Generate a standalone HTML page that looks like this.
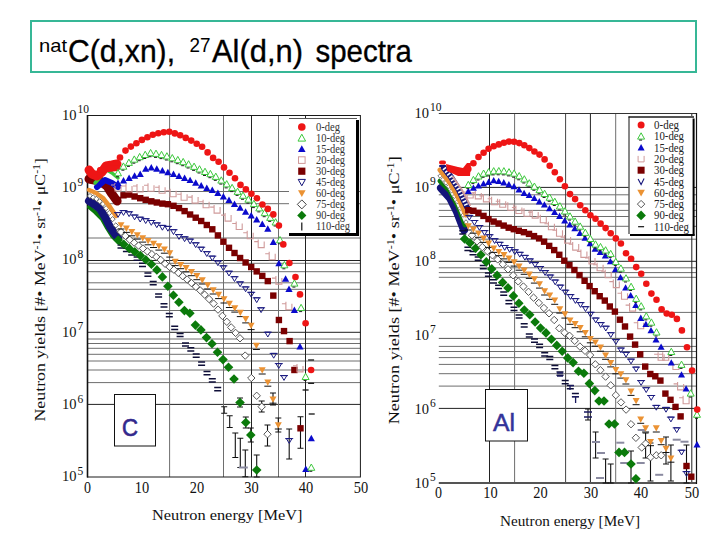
<!DOCTYPE html><html><head><meta charset="utf-8"><style>html,body{margin:0;padding:0;background:#fff;width:720px;height:540px;overflow:hidden}svg{display:block}</style></head><body>
<svg width="720" height="540" viewBox="0 0 720 540" shape-rendering="geometricPrecision">
<rect width="720" height="540" fill="#fff"/>
<rect x="31" y="21" width="665" height="51" fill="none" stroke="#36B796" stroke-width="2"/>
<text x="39" y="51.7" font-family="'Liberation Sans', sans-serif" font-size="18.5" textLength="28" lengthAdjust="spacingAndGlyphs">nat</text>
<text x="68" y="61.7" font-family="'Liberation Sans', sans-serif" font-size="31.5" textLength="107" lengthAdjust="spacingAndGlyphs" stroke="#000" stroke-width="0.35">C(d,xn),</text>
<text x="189.5" y="51.7" font-family="'Liberation Sans', sans-serif" font-size="19.5" textLength="21" lengthAdjust="spacingAndGlyphs">27</text>
<text x="212" y="61.7" font-family="'Liberation Sans', sans-serif" font-size="31.5" textLength="91" lengthAdjust="spacingAndGlyphs" stroke="#000" stroke-width="0.35">Al(d,n)</text>
<text x="315.5" y="61.7" font-family="'Liberation Sans', sans-serif" font-size="31.5" textLength="96.5" lengthAdjust="spacingAndGlyphs" stroke="#000" stroke-width="0.35">spectra</text>
<path d="M87.5 191.5H360.4" stroke="#6e6e6e" stroke-width="1"/><path d="M87.5 203.7H360.4" stroke="#6e6e6e" stroke-width="1"/><path d="M87.5 238H360.4" stroke="#6e6e6e" stroke-width="1"/><path d="M87.5 263.3H360.4" stroke="#6e6e6e" stroke-width="1"/><path d="M87.5 271.7H360.4" stroke="#6e6e6e" stroke-width="1"/><path d="M87.5 282.8H360.4" stroke="#6e6e6e" stroke-width="1"/><path d="M87.5 289.3H360.4" stroke="#6e6e6e" stroke-width="1"/><path d="M87.5 310.5H360.4" stroke="#6e6e6e" stroke-width="1"/><path d="M87.5 339H360.4" stroke="#6e6e6e" stroke-width="1"/><path d="M87.5 343.5H360.4" stroke="#6e6e6e" stroke-width="1"/><path d="M87.5 348.3H360.4" stroke="#6e6e6e" stroke-width="1"/><path d="M87.5 354.3H360.4" stroke="#6e6e6e" stroke-width="1"/><path d="M87.5 361H360.4" stroke="#6e6e6e" stroke-width="1"/><path d="M87.5 370H360.4" stroke="#6e6e6e" stroke-width="1"/><path d="M87.5 382.6H360.4" stroke="#6e6e6e" stroke-width="1"/><path d="M87.5 260.5H360.4" stroke="#222" stroke-width="1"/><path d="M87.5 332.3H360.4" stroke="#222" stroke-width="1"/><path d="M87.5 404.4H360.4" stroke="#222" stroke-width="1"/><path d="M169.6 115.5V477" stroke="#6e6e6e" stroke-width="1"/><path d="M223.5 115.5V477" stroke="#6e6e6e" stroke-width="1"/><path d="M278.5 115.5V477" stroke="#6e6e6e" stroke-width="1"/><path d="M251.5 115.5V477" stroke="#222" stroke-width="1"/><path d="M305.5 115.5V477" stroke="#222" stroke-width="1"/>
<rect x="87.5" y="115.5" width="272.9" height="361.5" fill="none" stroke="#1a1a1a" stroke-width="1"/>
<path d="M87.5 115V477.5" stroke="#111" stroke-width="1.6"/>
<g><polyline points="89,207 95,212 102,219 107,228 112,236 118,242 124,246" fill="none" stroke="#0B7A0B" stroke-width="4" stroke-linejoin="round" stroke-linecap="round"/><polyline points="89,201 95,205 100,209 105,217 110,227 115,234 118,238" fill="none" stroke="#14147A" stroke-width="8" stroke-linejoin="round" stroke-linecap="round"/><polygon points="90,193.4 92.6,196 90,198.6 87.4,196" fill="#fff" stroke="#444444" stroke-width="0.8"/><polygon points="93.2,194.8 95.8,197.4 93.2,200 90.6,197.4" fill="#fff" stroke="#444444" stroke-width="0.8"/><polygon points="96.4,196.2 99,198.8 96.4,201.4 93.8,198.8" fill="#fff" stroke="#444444" stroke-width="0.8"/><polygon points="99.7,198.7 102.3,201.3 99.7,203.9 97.1,201.3" fill="#fff" stroke="#444444" stroke-width="0.8"/><polygon points="102.9,201.4 105.5,204 102.9,206.6 100.3,204" fill="#fff" stroke="#444444" stroke-width="0.8"/><polygon points="106.1,205.6 108.7,208.2 106.1,210.8 103.5,208.2" fill="#fff" stroke="#444444" stroke-width="0.8"/><polygon points="109.3,210.4 111.9,213 109.3,215.6 106.7,213" fill="#fff" stroke="#444444" stroke-width="0.8"/><polygon points="112.6,216.5 115.2,219.1 112.6,221.7 110,219.1" fill="#fff" stroke="#444444" stroke-width="0.8"/><polygon points="115.8,222.8 118.4,225.4 115.8,228 113.2,225.4" fill="#fff" stroke="#444444" stroke-width="0.8"/><polygon points="119,228.4 121.6,231 119,233.6 116.4,231" fill="#fff" stroke="#444444" stroke-width="0.8"/><polyline points="89,190 96,193 103,198 110,207 116,216" fill="none" stroke="#EB9233" stroke-width="4.5" stroke-linejoin="round" stroke-linecap="round"/><polyline points="89,179 100,181 107,186 112,194 117,201" fill="none" stroke="#7A0000" stroke-width="9" stroke-linejoin="round" stroke-linecap="round"/><polyline points="97,187 105,180 112,183 118,187" fill="none" stroke="#0A0ACC" stroke-width="6" stroke-linejoin="round" stroke-linecap="round"/><polyline points="95,183 102,175 107,170 112,173 118,178" fill="none" stroke="#3DC83D" stroke-width="3.5" stroke-linejoin="round" stroke-linecap="round"/><polyline points="89,170 92,174 97,176 102,172 106,166 112,165 117,164" fill="none" stroke="#EE1515" stroke-width="9" stroke-linejoin="round" stroke-linecap="round"/><polyline points="100,170 117,168" fill="none" stroke="#EE1515" stroke-width="6" stroke-linejoin="round" stroke-linecap="round"/><path d="M117.5 244.9H124.5M117.5 248.1H124.5" stroke="#0e0e38" stroke-width="1.5" fill="none"/><path d="M122.9 248.3H129.9M122.9 251.5H129.9" stroke="#0e0e38" stroke-width="1.5" fill="none"/><path d="M128.2 251.8H135.2M128.2 255H135.2" stroke="#0e0e38" stroke-width="1.5" fill="none"/><path d="M133.6 257.1H140.6M133.6 260.3H140.6" stroke="#0e0e38" stroke-width="1.5" fill="none"/><path d="M139 263.2H146M139 266.4H146" stroke="#0e0e38" stroke-width="1.5" fill="none"/><path d="M144.4 273H151.4M144.4 276.2H151.4" stroke="#0e0e38" stroke-width="1.5" fill="none"/><path d="M149.7 281.6H156.7M149.7 284.8H156.7" stroke="#0e0e38" stroke-width="1.5" fill="none"/><path d="M155.1 293.9H162.1M155.1 297.1H162.1" stroke="#0e0e38" stroke-width="1.5" fill="none"/><path d="M160.5 303.7H167.5M160.5 306.9H167.5" stroke="#0e0e38" stroke-width="1.5" fill="none"/><path d="M165.8 313.5H172.8M165.8 316.7H172.8" stroke="#0e0e38" stroke-width="1.5" fill="none"/><path d="M171.2 326.2H178.2M171.2 329.4H178.2" stroke="#0e0e38" stroke-width="1.5" fill="none"/><path d="M176.6 333.4H183.6M176.6 336.6H183.6" stroke="#0e0e38" stroke-width="1.5" fill="none"/><path d="M182 342.9H189M182 346.1H189" stroke="#0e0e38" stroke-width="1.5" fill="none"/><path d="M187.3 347.8H194.3M187.3 351H194.3" stroke="#0e0e38" stroke-width="1.5" fill="none"/><path d="M192.7 354.1H199.7M192.7 357.3H199.7" stroke="#0e0e38" stroke-width="1.5" fill="none"/><path d="M198.1 362.1H205.1M198.1 365.3H205.1" stroke="#0e0e38" stroke-width="1.5" fill="none"/><path d="M203.5 371.5H210.5M203.5 374.7H210.5" stroke="#0e0e38" stroke-width="1.5" fill="none"/><path d="M208.8 378.8H215.8M208.8 382H215.8" stroke="#0e0e38" stroke-width="1.5" fill="none"/><path d="M214.2 387.6H221.2M214.2 390.8H221.2" stroke="#0e0e38" stroke-width="1.5" fill="none"/><path d="M224.2 406.7V413.3M221.2 406.7H227.2M221.2 413.3H227.2" stroke="#111" stroke-width="1.1" fill="none"/><path d="M229.7 415.8V427.5M226.7 415.8H232.7M226.7 427.5H232.7" stroke="#111" stroke-width="1.1" fill="none"/><path d="M235.3 433V457.5M232.3 433H238.3M232.3 457.5H238.3" stroke="#111" stroke-width="1.1" fill="none"/><path d="M240.3 438.3V467.5M237.3 438.3H243.3M237.3 467.5H243.3" stroke="#111" stroke-width="1.1" fill="none"/><path d="M245.3 450V476.7M242.3 450H248.3M242.3 476.7H248.3" stroke="#111" stroke-width="1.1" fill="none"/><path d="M238.8 467.5H247.8" stroke="#8a8aa0" stroke-width="2"/><path d="M240 398V407M237 398H243M237 407H243" stroke="#111" stroke-width="1.1" fill="none"/><path d="M245.8 417V428M242.8 417H248.8M242.8 428H248.8" stroke="#111" stroke-width="1.1" fill="none"/><path d="M250.8 428V442M247.8 428H253.8M247.8 442H253.8" stroke="#111" stroke-width="1.1" fill="none"/><path d="M256.7 455V477M253.7 455H259.7M253.7 477H259.7" stroke="#111" stroke-width="1.1" fill="none"/><path d="M261.7 401V412M258.7 401H264.7M258.7 412H264.7" stroke="#111" stroke-width="1.1" fill="none"/><path d="M267.5 425V446M264.5 425H270.5M264.5 446H270.5" stroke="#111" stroke-width="1.1" fill="none"/><path d="M273 393V405M270 393H276M270 405H276" stroke="#111" stroke-width="1.1" fill="none"/><path d="M278.3 418V432M275.3 418H281.3M275.3 432H281.3" stroke="#111" stroke-width="1.1" fill="none"/><path d="M289.2 429V459M286.2 429H292.2M286.2 459H292.2" stroke="#111" stroke-width="1.1" fill="none"/><path d="M300.5 416.7V448.3M297.5 416.7H303.5M297.5 448.3H303.5" stroke="#111" stroke-width="1.1" fill="none"/><path d="M308.7 414H314.7" stroke="#111" stroke-width="1.3"/><path d="M308.1 360H314.1" stroke="#111" stroke-width="1.3"/><path d="M308.1 383.3H314.1" stroke="#111" stroke-width="1.3"/><path d="M302.6 390H308.6" stroke="#111" stroke-width="1.3"/><polygon points="118.3,235.2 123.1,240 118.3,244.8 113.5,240" fill="#0B7A0B"/><polygon points="123.8,239.4 128.6,244.2 123.8,249 119,244.2" fill="#0B7A0B"/><polygon points="129.3,243.6 134.1,248.4 129.3,253.2 124.5,248.4" fill="#0B7A0B"/><polygon points="134.8,247 139.6,251.8 134.8,256.6 130,251.8" fill="#0B7A0B"/><polygon points="140.3,250.8 145.1,255.6 140.3,260.4 135.5,255.6" fill="#0B7A0B"/><polygon points="145.8,255 150.6,259.8 145.8,264.6 141,259.8" fill="#0B7A0B"/><polygon points="151.4,259.5 156.2,264.3 151.4,269.1 146.6,264.3" fill="#0B7A0B"/><polygon points="156.9,265.1 161.7,269.9 156.9,274.7 152.1,269.9" fill="#0B7A0B"/><polygon points="162.4,272.1 167.2,276.9 162.4,281.7 157.6,276.9" fill="#0B7A0B"/><polygon points="167.9,281.4 172.7,286.2 167.9,291 163.1,286.2" fill="#0B7A0B"/><polygon points="173.4,290.5 178.2,295.3 173.4,300.1 168.6,295.3" fill="#0B7A0B"/><polygon points="178.9,297.4 183.7,302.2 178.9,307 174.1,302.2" fill="#0B7A0B"/><polygon points="184.4,305.8 189.2,310.6 184.4,315.4 179.6,310.6" fill="#0B7A0B"/><polygon points="189.9,308.5 194.7,313.3 189.9,318.1 185.1,313.3" fill="#0B7A0B"/><polygon points="195.4,320.3 200.2,325.1 195.4,329.9 190.6,325.1" fill="#0B7A0B"/><polygon points="200.9,325.1 205.7,329.9 200.9,334.7 196.1,329.9" fill="#0B7A0B"/><polygon points="206.5,332.8 211.3,337.6 206.5,342.4 201.7,337.6" fill="#0B7A0B"/><polygon points="212,339 216.8,343.8 212,348.6 207.2,343.8" fill="#0B7A0B"/><polygon points="217.5,347.4 222.3,352.2 217.5,357 212.7,352.2" fill="#0B7A0B"/><polygon points="223,354.8 227.8,359.6 223,364.4 218.2,359.6" fill="#0B7A0B"/><polygon points="228.5,362.5 233.3,367.3 228.5,372.1 223.7,367.3" fill="#0B7A0B"/><polygon points="234,374.2 238.8,379 234,383.8 229.2,379" fill="#0B7A0B"/><polygon points="240,397.7 244.8,402.5 240,407.3 235.2,402.5" fill="#0B7A0B"/><polygon points="245.8,417.7 250.6,422.5 245.8,427.3 241,422.5" fill="#0B7A0B"/><polygon points="250.8,430.2 255.6,435 250.8,439.8 246,435" fill="#0B7A0B"/><polygon points="256.7,465.2 261.5,470 256.7,474.8 251.9,470" fill="#0B7A0B"/><polygon points="121,228.3 124.7,232 121,235.7 117.3,232" fill="#fff" stroke="#444444" stroke-width="0.9"/><polygon points="125.4,232.2 129.1,235.9 125.4,239.6 121.7,235.9" fill="#fff" stroke="#444444" stroke-width="0.9"/><polygon points="129.8,236.1 133.5,239.8 129.8,243.5 126.1,239.8" fill="#fff" stroke="#444444" stroke-width="0.9"/><polygon points="134.2,239 137.9,242.7 134.2,246.4 130.5,242.7" fill="#fff" stroke="#444444" stroke-width="0.9"/><polygon points="138.6,241.9 142.3,245.6 138.6,249.3 134.9,245.6" fill="#fff" stroke="#444444" stroke-width="0.9"/><polygon points="143,244.8 146.7,248.5 143,252.2 139.3,248.5" fill="#fff" stroke="#444444" stroke-width="0.9"/><polygon points="147.4,247.7 151.1,251.4 147.4,255.1 143.7,251.4" fill="#fff" stroke="#444444" stroke-width="0.9"/><polygon points="151.9,250.5 155.6,254.2 151.9,257.9 148.2,254.2" fill="#fff" stroke="#444444" stroke-width="0.9"/><polygon points="156.3,253.2 160,256.9 156.3,260.6 152.6,256.9" fill="#fff" stroke="#444444" stroke-width="0.9"/><polygon points="160.7,256.2 164.4,259.9 160.7,263.6 157,259.9" fill="#fff" stroke="#444444" stroke-width="0.9"/><polygon points="165.1,260.1 168.8,263.8 165.1,267.5 161.4,263.8" fill="#fff" stroke="#444444" stroke-width="0.9"/><polygon points="169.5,263.2 173.2,266.9 169.5,270.6 165.8,266.9" fill="#fff" stroke="#444444" stroke-width="0.9"/><polygon points="173.9,266 177.6,269.7 173.9,273.4 170.2,269.7" fill="#fff" stroke="#444444" stroke-width="0.9"/><polygon points="178.3,269.2 182,272.9 178.3,276.6 174.6,272.9" fill="#fff" stroke="#444444" stroke-width="0.9"/><polygon points="182.7,272.5 186.4,276.2 182.7,279.9 179,276.2" fill="#fff" stroke="#444444" stroke-width="0.9"/><polygon points="187.1,275.8 190.8,279.5 187.1,283.2 183.4,279.5" fill="#fff" stroke="#444444" stroke-width="0.9"/><polygon points="191.5,279.4 195.2,283.1 191.5,286.8 187.8,283.1" fill="#fff" stroke="#444444" stroke-width="0.9"/><polygon points="195.9,283.1 199.6,286.8 195.9,290.5 192.2,286.8" fill="#fff" stroke="#444444" stroke-width="0.9"/><polygon points="200.3,286.8 204,290.5 200.3,294.2 196.6,290.5" fill="#fff" stroke="#444444" stroke-width="0.9"/><polygon points="204.7,291 208.4,294.7 204.7,298.4 201,294.7" fill="#fff" stroke="#444444" stroke-width="0.9"/><polygon points="209.1,295.4 212.8,299.1 209.1,302.8 205.4,299.1" fill="#fff" stroke="#444444" stroke-width="0.9"/><polygon points="213.6,299.9 217.3,303.6 213.6,307.3 209.9,303.6" fill="#fff" stroke="#444444" stroke-width="0.9"/><polygon points="218,305.9 221.7,309.6 218,313.3 214.3,309.6" fill="#fff" stroke="#444444" stroke-width="0.9"/><polygon points="222.4,312.2 226.1,315.9 222.4,319.6 218.7,315.9" fill="#fff" stroke="#444444" stroke-width="0.9"/><polygon points="226.8,318.1 230.5,321.8 226.8,325.5 223.1,321.8" fill="#fff" stroke="#444444" stroke-width="0.9"/><polygon points="231.2,323.7 234.9,327.4 231.2,331.1 227.5,327.4" fill="#fff" stroke="#444444" stroke-width="0.9"/><polygon points="235.6,329.2 239.3,332.9 235.6,336.6 231.9,332.9" fill="#fff" stroke="#444444" stroke-width="0.9"/><polygon points="240,334.6 243.7,338.3 240,342 236.3,338.3" fill="#fff" stroke="#444444" stroke-width="0.9"/><polygon points="245.2,351.9 248.9,355.6 245.2,359.3 241.5,355.6" fill="#fff" stroke="#444444" stroke-width="0.9"/><polygon points="251.3,374.3 255,378 251.3,381.7 247.6,378" fill="#fff" stroke="#444444" stroke-width="0.9"/><polygon points="256.7,392.1 260.4,395.8 256.7,399.5 253,395.8" fill="#fff" stroke="#444444" stroke-width="0.9"/><polygon points="261.7,403 265.4,406.7 261.7,410.4 258,406.7" fill="#fff" stroke="#444444" stroke-width="0.9"/><polygon points="267.5,430.5 271.2,434.2 267.5,437.9 263.8,434.2" fill="#fff" stroke="#444444" stroke-width="0.9"/><polygon points="121,228.5 117.5,222.2 124.5,222.2" fill="#EB9233"/><path d="M117.5 229H124.5" stroke="#111" stroke-width="1"/><polygon points="126.4,231.9 122.9,225.6 129.9,225.6" fill="#EB9233"/><path d="M122.9 232.4H129.9" stroke="#111" stroke-width="1"/><polygon points="131.8,235.3 128.3,229 135.3,229" fill="#EB9233"/><path d="M128.3 235.8H135.3" stroke="#111" stroke-width="1"/><polygon points="137.3,238.6 133.8,232.3 140.8,232.3" fill="#EB9233"/><path d="M133.8 239.1H140.8" stroke="#111" stroke-width="1"/><polygon points="142.7,241.6 139.2,235.3 146.2,235.3" fill="#EB9233"/><path d="M139.2 242.1H146.2" stroke="#111" stroke-width="1"/><polygon points="148.1,244.3 144.6,238 151.6,238" fill="#EB9233"/><path d="M144.6 244.8H151.6" stroke="#111" stroke-width="1"/><polygon points="153.5,247 150,240.7 157,240.7" fill="#EB9233"/><path d="M150 247.5H157" stroke="#111" stroke-width="1"/><polygon points="158.9,249.6 155.4,243.3 162.4,243.3" fill="#EB9233"/><path d="M155.4 250.1H162.4" stroke="#111" stroke-width="1"/><polygon points="164.4,252.7 160.9,246.4 167.9,246.4" fill="#EB9233"/><path d="M160.9 253.2H167.9" stroke="#111" stroke-width="1"/><polygon points="169.8,256.6 166.3,250.3 173.3,250.3" fill="#EB9233"/><path d="M166.3 257.1H173.3" stroke="#111" stroke-width="1"/><polygon points="175.2,265.1 171.7,258.8 178.7,258.8" fill="#EB9233"/><path d="M171.7 265.6H178.7" stroke="#111" stroke-width="1"/><polygon points="180.6,268.2 177.1,261.9 184.1,261.9" fill="#EB9233"/><path d="M177.1 268.7H184.1" stroke="#111" stroke-width="1"/><polygon points="186.1,271.4 182.6,265.1 189.6,265.1" fill="#EB9233"/><path d="M182.6 271.9H189.6" stroke="#111" stroke-width="1"/><polygon points="191.5,275.2 188,268.9 195,268.9" fill="#EB9233"/><path d="M188 275.7H195" stroke="#111" stroke-width="1"/><polygon points="196.9,279.2 193.4,272.9 200.4,272.9" fill="#EB9233"/><path d="M193.4 279.7H200.4" stroke="#111" stroke-width="1"/><polygon points="202.3,283.5 198.8,277.2 205.8,277.2" fill="#EB9233"/><path d="M198.8 284H205.8" stroke="#111" stroke-width="1"/><polygon points="207.7,288.5 204.2,282.2 211.2,282.2" fill="#EB9233"/><path d="M204.2 289H211.2" stroke="#111" stroke-width="1"/><polygon points="213.2,293.5 209.7,287.2 216.7,287.2" fill="#EB9233"/><path d="M209.7 294H216.7" stroke="#111" stroke-width="1"/><polygon points="218.6,298.1 215.1,291.8 222.1,291.8" fill="#EB9233"/><path d="M215.1 298.6H222.1" stroke="#111" stroke-width="1"/><polygon points="224,302.5 220.5,296.2 227.5,296.2" fill="#EB9233"/><path d="M220.5 303H227.5" stroke="#111" stroke-width="1"/><polygon points="229.4,307 225.9,300.7 232.9,300.7" fill="#EB9233"/><path d="M225.9 307.5H232.9" stroke="#111" stroke-width="1"/><polygon points="234.8,311.6 231.3,305.3 238.3,305.3" fill="#EB9233"/><path d="M231.3 312.1H238.3" stroke="#111" stroke-width="1"/><polygon points="240.3,316.1 236.8,309.8 243.8,309.8" fill="#EB9233"/><path d="M236.8 316.6H243.8" stroke="#111" stroke-width="1"/><polygon points="245.7,322.4 242.2,316.1 249.2,316.1" fill="#EB9233"/><path d="M242.2 322.9H249.2" stroke="#111" stroke-width="1"/><polygon points="251.1,329.1 247.6,322.8 254.6,322.8" fill="#EB9233"/><path d="M247.6 329.6H254.6" stroke="#111" stroke-width="1"/><polygon points="256.4,349 252.9,342.7 259.9,342.7" fill="#EB9233"/><path d="M252.9 349.5H259.9" stroke="#111" stroke-width="1"/><polygon points="262.2,373.5 258.7,367.2 265.7,367.2" fill="#EB9233"/><path d="M258.7 374H265.7" stroke="#111" stroke-width="1"/><polygon points="267.8,385.7 264.3,379.4 271.3,379.4" fill="#EB9233"/><path d="M264.3 386.2H271.3" stroke="#111" stroke-width="1"/><polygon points="273,402.7 269.5,396.4 276.5,396.4" fill="#EB9233"/><path d="M269.5 403.2H276.5" stroke="#111" stroke-width="1"/><polygon points="278.3,428.5 274.8,422.2 281.8,422.2" fill="#EB9233"/><path d="M274.8 429H281.8" stroke="#111" stroke-width="1"/><path d="M115.2 212.6L118 217.4L120.8 212.6ZM114 212.6H122" stroke="#1a1a80" stroke-width="1" fill="none"/><path d="M120.7 210.6L123.5 215.4L126.3 210.6ZM119.5 210.6H127.5" stroke="#1a1a80" stroke-width="1" fill="none"/><path d="M126.3 211.8L129.1 216.6L131.9 211.8ZM125.1 211.8H133.1" stroke="#1a1a80" stroke-width="1" fill="none"/><path d="M131.8 215L134.6 219.8L137.4 215ZM130.6 215H138.6" stroke="#1a1a80" stroke-width="1" fill="none"/><path d="M137.4 217.2L140.2 222L143 217.2ZM136.2 217.2H144.2" stroke="#1a1a80" stroke-width="1" fill="none"/><path d="M142.9 218.7L145.7 223.5L148.5 218.7ZM141.7 218.7H149.7" stroke="#1a1a80" stroke-width="1" fill="none"/><path d="M148.5 220.5L151.3 225.3L154.1 220.5ZM147.3 220.5H155.3" stroke="#1a1a80" stroke-width="1" fill="none"/><path d="M154 222.9L156.8 227.7L159.6 222.9ZM152.8 222.9H160.8" stroke="#1a1a80" stroke-width="1" fill="none"/><path d="M159.6 225.4L162.4 230.2L165.2 225.4ZM158.4 225.4H166.4" stroke="#1a1a80" stroke-width="1" fill="none"/><path d="M165.1 226.4L167.9 231.2L170.7 226.4ZM163.9 226.4H171.9" stroke="#1a1a80" stroke-width="1" fill="none"/><path d="M170.7 229.7L173.5 234.5L176.3 229.7ZM169.5 229.7H177.5" stroke="#1a1a80" stroke-width="1" fill="none"/><path d="M176.2 234.6L179 239.4L181.8 234.6ZM175 234.6H183" stroke="#1a1a80" stroke-width="1" fill="none"/><path d="M181.8 236.8L184.6 241.6L187.4 236.8ZM180.6 236.8H188.6" stroke="#1a1a80" stroke-width="1" fill="none"/><path d="M187.3 239.1L190.1 243.9L192.9 239.1ZM186.1 239.1H194.1" stroke="#1a1a80" stroke-width="1" fill="none"/><path d="M192.9 242.8L195.7 247.6L198.5 242.8ZM191.7 242.8H199.7" stroke="#1a1a80" stroke-width="1" fill="none"/><path d="M198.4 247.2L201.2 252L204 247.2ZM197.2 247.2H205.2" stroke="#1a1a80" stroke-width="1" fill="none"/><path d="M204 251.7L206.8 256.5L209.6 251.7ZM202.8 251.7H210.8" stroke="#1a1a80" stroke-width="1" fill="none"/><path d="M209.5 256.1L212.3 260.9L215.1 256.1ZM208.3 256.1H216.3" stroke="#1a1a80" stroke-width="1" fill="none"/><path d="M215.1 260.9L217.9 265.7L220.7 260.9ZM213.9 260.9H221.9" stroke="#1a1a80" stroke-width="1" fill="none"/><path d="M220.6 265.8L223.4 270.6L226.2 265.8ZM219.4 265.8H227.4" stroke="#1a1a80" stroke-width="1" fill="none"/><path d="M226.2 271.2L229 276L231.8 271.2ZM225 271.2H233" stroke="#1a1a80" stroke-width="1" fill="none"/><path d="M231.7 276.7L234.5 281.5L237.3 276.7ZM230.5 276.7H238.5" stroke="#1a1a80" stroke-width="1" fill="none"/><path d="M237.3 281.9L240.1 286.7L242.9 281.9ZM236.1 281.9H244.1" stroke="#1a1a80" stroke-width="1" fill="none"/><path d="M242.8 286.9L245.6 291.7L248.4 286.9ZM241.6 286.9H249.6" stroke="#1a1a80" stroke-width="1" fill="none"/><path d="M248.4 292.3L251.2 297.1L254 292.3ZM247.2 292.3H255.2" stroke="#1a1a80" stroke-width="1" fill="none"/><path d="M253.9 297.8L256.7 302.6L259.5 297.8ZM252.7 297.8H260.7" stroke="#1a1a80" stroke-width="1" fill="none"/><path d="M258.3 307.8L261.1 312.6L263.9 307.8ZM257.1 307.8H265.1" stroke="#1a1a80" stroke-width="1" fill="none"/><path d="M265 332.2L267.8 337L270.6 332.2ZM263.8 332.2H271.8" stroke="#1a1a80" stroke-width="1" fill="none"/><path d="M270.9 353.4L273.7 358.2L276.5 353.4ZM269.7 353.4H277.7" stroke="#1a1a80" stroke-width="1" fill="none"/><path d="M276 363.6L278.8 368.4L281.6 363.6ZM274.8 363.6H282.8" stroke="#1a1a80" stroke-width="1" fill="none"/><path d="M281.2 375.6L284 380.4L286.8 375.6ZM280 375.6H288" stroke="#1a1a80" stroke-width="1" fill="none"/><path d="M286.4 438.6L289.2 443.4L292 438.6ZM285.2 438.6H293.2" stroke="#1a1a80" stroke-width="1" fill="none"/><rect x="114.8" y="196.8" width="6.4" height="6.4" fill="#7A0000"/><rect x="120.3" y="192.1" width="6.4" height="6.4" fill="#7A0000"/><rect x="125.9" y="191.4" width="6.4" height="6.4" fill="#7A0000"/><rect x="131.4" y="193.3" width="6.4" height="6.4" fill="#7A0000"/><rect x="137" y="195" width="6.4" height="6.4" fill="#7A0000"/><rect x="142.5" y="196.6" width="6.4" height="6.4" fill="#7A0000"/><rect x="148.1" y="198.1" width="6.4" height="6.4" fill="#7A0000"/><rect x="153.6" y="199.3" width="6.4" height="6.4" fill="#7A0000"/><rect x="159.2" y="200.4" width="6.4" height="6.4" fill="#7A0000"/><rect x="164.7" y="201" width="6.4" height="6.4" fill="#7A0000"/><rect x="170.3" y="202.6" width="6.4" height="6.4" fill="#7A0000"/><rect x="175.8" y="204.9" width="6.4" height="6.4" fill="#7A0000"/><rect x="181.4" y="207.9" width="6.4" height="6.4" fill="#7A0000"/><rect x="186.9" y="211.3" width="6.4" height="6.4" fill="#7A0000"/><rect x="192.5" y="214.5" width="6.4" height="6.4" fill="#7A0000"/><rect x="198" y="217.8" width="6.4" height="6.4" fill="#7A0000"/><rect x="203.6" y="221.8" width="6.4" height="6.4" fill="#7A0000"/><rect x="209.1" y="226.1" width="6.4" height="6.4" fill="#7A0000"/><rect x="214.7" y="232.2" width="6.4" height="6.4" fill="#7A0000"/><rect x="220.2" y="238.5" width="6.4" height="6.4" fill="#7A0000"/><rect x="225.8" y="244.6" width="6.4" height="6.4" fill="#7A0000"/><rect x="231.3" y="249.8" width="6.4" height="6.4" fill="#7A0000"/><rect x="236.9" y="254.8" width="6.4" height="6.4" fill="#7A0000"/><rect x="242.4" y="259.3" width="6.4" height="6.4" fill="#7A0000"/><rect x="248" y="263.8" width="6.4" height="6.4" fill="#7A0000"/><rect x="253.5" y="268.2" width="6.4" height="6.4" fill="#7A0000"/><rect x="259.1" y="272.7" width="6.4" height="6.4" fill="#7A0000"/><rect x="264.6" y="277.9" width="6.4" height="6.4" fill="#7A0000"/><rect x="270.1" y="292.4" width="6.4" height="6.4" fill="#7A0000"/><rect x="275.7" y="316.8" width="6.4" height="6.4" fill="#7A0000"/><rect x="280.8" y="327.9" width="6.4" height="6.4" fill="#7A0000"/><rect x="286.4" y="337.9" width="6.4" height="6.4" fill="#7A0000"/><rect x="291.2" y="366.8" width="6.4" height="6.4" fill="#7A0000"/><rect x="297.3" y="425.1" width="6.4" height="6.4" fill="#7A0000"/><path d="M111 185H115V191H121V185M115 185V183" stroke="#D09A9A" stroke-width="1.1" fill="none"/><path d="M122 186H126V192H132V186M126 186V184" stroke="#D09A9A" stroke-width="1.1" fill="none"/><path d="M133 186H137V192H143V186M137 186V184" stroke="#D09A9A" stroke-width="1.1" fill="none"/><path d="M144 185.3H148V191.3H154V185.3M148 185.3V183.3" stroke="#D09A9A" stroke-width="1.1" fill="none"/><path d="M155.1 187.2H159.1V193.2H165.1V187.2M159.1 187.2V185.2" stroke="#D09A9A" stroke-width="1.1" fill="none"/><path d="M166.1 190.7H170.1V196.7H176.1V190.7M170.1 190.7V188.7" stroke="#D09A9A" stroke-width="1.1" fill="none"/><path d="M177.1 194.3H181.1V200.3H187.1V194.3M181.1 194.3V192.3" stroke="#D09A9A" stroke-width="1.1" fill="none"/><path d="M188.1 197.1H192.1V203.1H198.1V197.1M192.1 197.1V195.1" stroke="#D09A9A" stroke-width="1.1" fill="none"/><path d="M199.1 201.7H203.1V207.7H209.1V201.7M203.1 201.7V199.7" stroke="#D09A9A" stroke-width="1.1" fill="none"/><path d="M210.1 207.1H214.1V213.1H220.1V207.1M214.1 207.1V205.1" stroke="#D09A9A" stroke-width="1.1" fill="none"/><path d="M221.1 215.1H225.1V221.1H231.1V215.1M225.1 215.1V213.1" stroke="#D09A9A" stroke-width="1.1" fill="none"/><path d="M232.2 223.5H236.2V229.5H242.2V223.5M236.2 223.5V221.5" stroke="#D09A9A" stroke-width="1.1" fill="none"/><path d="M243.2 232.7H247.2V238.7H253.2V232.7M247.2 232.7V230.7" stroke="#D09A9A" stroke-width="1.1" fill="none"/><path d="M254.2 241.6H258.2V247.6H264.2V241.6M258.2 241.6V239.6" stroke="#D09A9A" stroke-width="1.1" fill="none"/><path d="M265.2 253.7H269.2V259.7H275.2V253.7M269.2 253.7V251.7" stroke="#D09A9A" stroke-width="1.1" fill="none"/><path d="M271.9 278.1H275.9V284.1H281.9V278.1M275.9 278.1V276.1" stroke="#D09A9A" stroke-width="1.1" fill="none"/><path d="M281.9 303.7H285.9V309.7H291.9V303.7M285.9 303.7V301.7" stroke="#D09A9A" stroke-width="1.1" fill="none"/><path d="M293 365.9H297V371.9H303V365.9M297 365.9V363.9" stroke="#D09A9A" stroke-width="1.1" fill="none"/><polygon points="118,179.4 114.4,185.9 121.6,185.9" fill="#0A0ACC"/><polygon points="123.5,176.9 119.9,183.4 127.1,183.4" fill="#0A0ACC"/><polygon points="129.1,174.5 125.5,180.9 132.7,180.9" fill="#0A0ACC"/><polygon points="134.6,172.2 131,178.7 138.2,178.7" fill="#0A0ACC"/><polygon points="140.2,170.5 136.6,177 143.8,177" fill="#0A0ACC"/><polygon points="145.7,165.3 142.1,171.8 149.3,171.8" fill="#0A0ACC"/><polygon points="151.3,163.9 147.7,170.4 154.9,170.4" fill="#0A0ACC"/><polygon points="156.8,165.3 153.2,171.7 160.4,171.7" fill="#0A0ACC"/><polygon points="162.4,166.9 158.8,173.4 166,173.4" fill="#0A0ACC"/><polygon points="167.9,168.7 164.3,175.2 171.5,175.2" fill="#0A0ACC"/><polygon points="173.5,170.6 169.9,177.1 177.1,177.1" fill="#0A0ACC"/><polygon points="179,172.4 175.4,178.9 182.6,178.9" fill="#0A0ACC"/><polygon points="184.6,174.5 181,181 188.2,181" fill="#0A0ACC"/><polygon points="190.1,176.7 186.5,183.1 193.7,183.1" fill="#0A0ACC"/><polygon points="195.7,179.3 192.1,185.7 199.3,185.7" fill="#0A0ACC"/><polygon points="201.2,182.1 197.6,188.5 204.8,188.5" fill="#0A0ACC"/><polygon points="206.8,184.4 203.2,190.9 210.4,190.9" fill="#0A0ACC"/><polygon points="212.3,186.6 208.7,193.1 215.9,193.1" fill="#0A0ACC"/><polygon points="217.9,189.5 214.3,196 221.5,196" fill="#0A0ACC"/><polygon points="223.4,192.9 219.8,199.4 227,199.4" fill="#0A0ACC"/><polygon points="229,196.6 225.4,203 232.6,203" fill="#0A0ACC"/><polygon points="234.5,200.5 230.9,206.9 238.1,206.9" fill="#0A0ACC"/><polygon points="240.1,204.3 236.5,210.8 243.7,210.8" fill="#0A0ACC"/><polygon points="245.6,208.2 242,214.7 249.2,214.7" fill="#0A0ACC"/><polygon points="251.2,212 247.6,218.5 254.8,218.5" fill="#0A0ACC"/><polygon points="256.7,215.9 253.1,222.4 260.3,222.4" fill="#0A0ACC"/><polygon points="262.3,220.4 258.7,226.9 265.9,226.9" fill="#0A0ACC"/><polygon points="267.8,225.3 264.2,231.8 271.4,231.8" fill="#0A0ACC"/><polygon points="273.3,238.6 269.7,245.1 276.9,245.1" fill="#0A0ACC"/><polygon points="278.9,259.7 275.3,266.2 282.5,266.2" fill="#0A0ACC"/><polygon points="285.6,275.3 282,281.8 289.2,281.8" fill="#0A0ACC"/><polygon points="289,285.4 285.4,291.9 292.6,291.9" fill="#0A0ACC"/><polygon points="294.4,306.4 290.8,312.9 298,312.9" fill="#0A0ACC"/><polygon points="300,343.1 296.4,349.6 303.6,349.6" fill="#0A0ACC"/><polygon points="311.3,434.7 307.7,441.2 314.9,441.2" fill="#0A0ACC"/><polygon points="305.8,465.6 302.2,472.1 309.4,472.1" fill="#0A0ACC"/><polygon points="118,169.5 114.5,175.8 121.5,175.8" fill="#fff" stroke="#3DC83D" stroke-width="1"/><path d="M116 176.8H119" stroke="#222" stroke-width="1"/><polygon points="123.4,162.9 119.9,169.2 126.9,169.2" fill="#fff" stroke="#3DC83D" stroke-width="1"/><path d="M121.4 170.2H124.4" stroke="#222" stroke-width="1"/><polygon points="128.9,159.1 125.4,165.4 132.4,165.4" fill="#fff" stroke="#3DC83D" stroke-width="1"/><path d="M126.9 166.4H129.9" stroke="#222" stroke-width="1"/><polygon points="134.3,155.9 130.8,162.2 137.8,162.2" fill="#fff" stroke="#3DC83D" stroke-width="1"/><path d="M132.3 163.2H135.3" stroke="#222" stroke-width="1"/><polygon points="139.7,153.4 136.2,159.7 143.2,159.7" fill="#fff" stroke="#3DC83D" stroke-width="1"/><path d="M137.7 160.7H140.7" stroke="#222" stroke-width="1"/><polygon points="145.2,151.2 141.7,157.5 148.7,157.5" fill="#fff" stroke="#3DC83D" stroke-width="1"/><path d="M143.2 158.5H146.2" stroke="#222" stroke-width="1"/><polygon points="150.6,149.4 147.1,155.7 154.1,155.7" fill="#fff" stroke="#3DC83D" stroke-width="1"/><path d="M148.6 156.7H151.6" stroke="#222" stroke-width="1"/><polygon points="156,150.1 152.5,156.4 159.5,156.4" fill="#fff" stroke="#3DC83D" stroke-width="1"/><path d="M154 157.4H157" stroke="#222" stroke-width="1"/><polygon points="161.5,151.3 158,157.6 165,157.6" fill="#fff" stroke="#3DC83D" stroke-width="1"/><path d="M159.5 158.6H162.5" stroke="#222" stroke-width="1"/><polygon points="166.9,152.7 163.4,159 170.4,159" fill="#fff" stroke="#3DC83D" stroke-width="1"/><path d="M164.9 160H167.9" stroke="#222" stroke-width="1"/><polygon points="172.3,154.5 168.8,160.8 175.8,160.8" fill="#fff" stroke="#3DC83D" stroke-width="1"/><path d="M170.3 161.8H173.3" stroke="#222" stroke-width="1"/><polygon points="177.8,156.4 174.3,162.7 181.3,162.7" fill="#fff" stroke="#3DC83D" stroke-width="1"/><path d="M175.8 163.7H178.8" stroke="#222" stroke-width="1"/><polygon points="183.2,158.4 179.7,164.7 186.7,164.7" fill="#fff" stroke="#3DC83D" stroke-width="1"/><path d="M181.2 165.7H184.2" stroke="#222" stroke-width="1"/><polygon points="188.6,160.7 185.1,167 192.1,167" fill="#fff" stroke="#3DC83D" stroke-width="1"/><path d="M186.6 168H189.6" stroke="#222" stroke-width="1"/><polygon points="194.1,163.1 190.6,169.4 197.6,169.4" fill="#fff" stroke="#3DC83D" stroke-width="1"/><path d="M192.1 170.4H195.1" stroke="#222" stroke-width="1"/><polygon points="199.5,165.7 196,172 203,172" fill="#fff" stroke="#3DC83D" stroke-width="1"/><path d="M197.5 173H200.5" stroke="#222" stroke-width="1"/><polygon points="205,168.2 201.5,174.5 208.5,174.5" fill="#fff" stroke="#3DC83D" stroke-width="1"/><path d="M203 175.5H206" stroke="#222" stroke-width="1"/><polygon points="210.4,170.4 206.9,176.7 213.9,176.7" fill="#fff" stroke="#3DC83D" stroke-width="1"/><path d="M208.4 177.7H211.4" stroke="#222" stroke-width="1"/><polygon points="215.8,173.1 212.3,179.4 219.3,179.4" fill="#fff" stroke="#3DC83D" stroke-width="1"/><path d="M213.8 180.4H216.8" stroke="#222" stroke-width="1"/><polygon points="221.3,176.8 217.8,183.1 224.8,183.1" fill="#fff" stroke="#3DC83D" stroke-width="1"/><path d="M219.3 184.1H222.3" stroke="#222" stroke-width="1"/><polygon points="226.7,180.6 223.2,186.9 230.2,186.9" fill="#fff" stroke="#3DC83D" stroke-width="1"/><path d="M224.7 187.9H227.7" stroke="#222" stroke-width="1"/><polygon points="232.1,184.3 228.6,190.6 235.6,190.6" fill="#fff" stroke="#3DC83D" stroke-width="1"/><path d="M230.1 191.6H233.1" stroke="#222" stroke-width="1"/><polygon points="237.6,188.1 234.1,194.4 241.1,194.4" fill="#fff" stroke="#3DC83D" stroke-width="1"/><path d="M235.6 195.4H238.6" stroke="#222" stroke-width="1"/><polygon points="243,192 239.5,198.3 246.5,198.3" fill="#fff" stroke="#3DC83D" stroke-width="1"/><path d="M241 199.3H244" stroke="#222" stroke-width="1"/><polygon points="248.4,195.9 244.9,202.2 251.9,202.2" fill="#fff" stroke="#3DC83D" stroke-width="1"/><path d="M246.4 203.2H249.4" stroke="#222" stroke-width="1"/><polygon points="253.9,200.3 250.4,206.6 257.4,206.6" fill="#fff" stroke="#3DC83D" stroke-width="1"/><path d="M251.9 207.6H254.9" stroke="#222" stroke-width="1"/><polygon points="259.3,204.6 255.8,210.9 262.8,210.9" fill="#fff" stroke="#3DC83D" stroke-width="1"/><path d="M257.3 211.9H260.3" stroke="#222" stroke-width="1"/><polygon points="264.7,209.4 261.2,215.7 268.2,215.7" fill="#fff" stroke="#3DC83D" stroke-width="1"/><path d="M262.7 216.7H265.7" stroke="#222" stroke-width="1"/><polygon points="270.2,214.1 266.7,220.4 273.7,220.4" fill="#fff" stroke="#3DC83D" stroke-width="1"/><path d="M268.2 221.4H271.2" stroke="#222" stroke-width="1"/><polygon points="275.6,218.7 272.1,225 279.1,225" fill="#fff" stroke="#3DC83D" stroke-width="1"/><path d="M273.6 226H276.6" stroke="#222" stroke-width="1"/><polygon points="280,236.5 276.5,242.8 283.5,242.8" fill="#fff" stroke="#3DC83D" stroke-width="1"/><path d="M278 243.8H281" stroke="#222" stroke-width="1"/><polygon points="284.4,261.5 280.9,267.8 287.9,267.8" fill="#fff" stroke="#3DC83D" stroke-width="1"/><path d="M282.4 268.8H285.4" stroke="#222" stroke-width="1"/><polygon points="294.4,279.8 290.9,286.1 297.9,286.1" fill="#fff" stroke="#3DC83D" stroke-width="1"/><path d="M292.4 287.1H295.4" stroke="#222" stroke-width="1"/><polygon points="301.1,304.3 297.6,310.6 304.6,310.6" fill="#fff" stroke="#3DC83D" stroke-width="1"/><path d="M299.1 311.6H302.1" stroke="#222" stroke-width="1"/><polygon points="305.6,373.2 302.1,379.5 309.1,379.5" fill="#fff" stroke="#3DC83D" stroke-width="1"/><path d="M303.6 380.5H306.6" stroke="#222" stroke-width="1"/><polygon points="311.3,464 307.8,470.3 314.8,470.3" fill="#fff" stroke="#3DC83D" stroke-width="1"/><path d="M309.3 471.3H312.3" stroke="#222" stroke-width="1"/><circle cx="120" cy="157.5" r="3.3" fill="#EE1515"/><circle cx="125.5" cy="150.6" r="3.3" fill="#EE1515"/><circle cx="130.9" cy="146.6" r="3.3" fill="#EE1515"/><circle cx="136.4" cy="143.2" r="3.3" fill="#EE1515"/><circle cx="141.9" cy="139.9" r="3.3" fill="#EE1515"/><circle cx="147.4" cy="137.2" r="3.3" fill="#EE1515"/><circle cx="152.8" cy="134.7" r="3.3" fill="#EE1515"/><circle cx="158.3" cy="133.3" r="3.3" fill="#EE1515"/><circle cx="163.8" cy="132.3" r="3.3" fill="#EE1515"/><circle cx="169.3" cy="131.8" r="3.3" fill="#EE1515"/><circle cx="174.8" cy="133.4" r="3.3" fill="#EE1515"/><circle cx="180.2" cy="135.3" r="3.3" fill="#EE1515"/><circle cx="185.7" cy="137.9" r="3.3" fill="#EE1515"/><circle cx="191.2" cy="140.6" r="3.3" fill="#EE1515"/><circle cx="196.7" cy="143.7" r="3.3" fill="#EE1515"/><circle cx="202.1" cy="146.8" r="3.3" fill="#EE1515"/><circle cx="207.6" cy="152.4" r="3.3" fill="#EE1515"/><circle cx="213.1" cy="157.9" r="3.3" fill="#EE1515"/><circle cx="218.6" cy="161.7" r="3.3" fill="#EE1515"/><circle cx="224" cy="167.4" r="3.3" fill="#EE1515"/><circle cx="229.5" cy="172.8" r="3.3" fill="#EE1515"/><circle cx="235" cy="178.3" r="3.3" fill="#EE1515"/><circle cx="240.5" cy="184.9" r="3.3" fill="#EE1515"/><circle cx="245.9" cy="189.4" r="3.3" fill="#EE1515"/><circle cx="251.4" cy="193.8" r="3.3" fill="#EE1515"/><circle cx="256.9" cy="198.2" r="3.3" fill="#EE1515"/><circle cx="262.4" cy="204.5" r="3.3" fill="#EE1515"/><circle cx="267.8" cy="208.9" r="3.3" fill="#EE1515"/><circle cx="273.3" cy="214.4" r="3.3" fill="#EE1515"/><circle cx="278.9" cy="225.6" r="3.3" fill="#EE1515"/><circle cx="283.3" cy="244.4" r="3.3" fill="#EE1515"/><circle cx="289.4" cy="263" r="3.3" fill="#EE1515"/><circle cx="295.5" cy="277" r="3.3" fill="#EE1515"/><circle cx="300" cy="294.4" r="3.3" fill="#EE1515"/><circle cx="305.6" cy="323.3" r="3.3" fill="#EE1515"/><circle cx="311.1" cy="370" r="3.3" fill="#EE1515"/></g>
<rect x="114.5" y="394.5" width="41" height="51.5" fill="#fff" stroke="#111" stroke-width="1"/>
<text x="122" y="435.8" font-family="'Liberation Sans', sans-serif" font-size="23" fill="#33288C" stroke="#33288C" stroke-width="0.6" textLength="16" lengthAdjust="spacingAndGlyphs">C</text>
<rect x="289" y="118" width="67.5" height="115" fill="#fff"/>
<path d="M289 118.5H357" stroke="#555" stroke-width="1"/>
<rect x="356" y="120" width="3" height="116" fill="#000"/>
<rect x="289" y="233" width="70" height="3" fill="#000"/>
<circle cx="301.8" cy="127" r="3.8" fill="#EE1515"/>
<text x="316" y="131" font-family="'Liberation Serif', serif" font-size="12.5" fill="#333" textLength="24" lengthAdjust="spacingAndGlyphs">0-deg</text>
<polygon points="301.8,134.2 298,141.1 305.6,141.1" fill="#fff" stroke="#3DC83D" stroke-width="1"/>
<text x="316" y="142.1" font-family="'Liberation Serif', serif" font-size="12.5" fill="#333" textLength="29" lengthAdjust="spacingAndGlyphs">10-deg</text>
<polygon points="301.8,145.3 298,152.1 305.6,152.1" fill="#0A0ACC"/>
<text x="316" y="153.1" font-family="'Liberation Serif', serif" font-size="12.5" fill="#333" textLength="29" lengthAdjust="spacingAndGlyphs">15-deg</text>
<rect x="298.5" y="156.8" width="6.6" height="6.6" fill="none" stroke="#D09A9A" stroke-width="1"/>
<text x="316" y="164.2" font-family="'Liberation Serif', serif" font-size="12.5" fill="#333" textLength="29" lengthAdjust="spacingAndGlyphs">20-deg</text>
<rect x="298.2" y="167.6" width="7.2" height="7.2" fill="#7A0000"/>
<text x="316" y="175.2" font-family="'Liberation Serif', serif" font-size="12.5" fill="#333" textLength="29" lengthAdjust="spacingAndGlyphs">30-deg</text>
<polygon points="301.8,185.8 298.2,179.4 305.4,179.4" fill="#fff" stroke="#14147A" stroke-width="1"/>
<text x="316" y="186.2" font-family="'Liberation Serif', serif" font-size="12.5" fill="#333" textLength="29" lengthAdjust="spacingAndGlyphs">45-deg</text>
<polygon points="301.8,197.1 298,190.3 305.6,190.3" fill="#EB9233"/>
<text x="316" y="197.3" font-family="'Liberation Serif', serif" font-size="12.5" fill="#333" textLength="29" lengthAdjust="spacingAndGlyphs">60-deg</text>
<polygon points="301.8,199.9 306.3,204.4 301.8,208.9 297.3,204.4" fill="#fff" stroke="#444444" stroke-width="1"/>
<text x="316" y="208.4" font-family="'Liberation Serif', serif" font-size="12.5" fill="#333" textLength="29" lengthAdjust="spacingAndGlyphs">75-deg</text>
<polygon points="301.8,210.8 306.4,215.4 301.8,220 297.2,215.4" fill="#0B7A0B"/>
<text x="316" y="219.4" font-family="'Liberation Serif', serif" font-size="12.5" fill="#333" textLength="29" lengthAdjust="spacingAndGlyphs">90-deg</text>
<path d="M301.8 222.4V230.4" stroke="#111" stroke-width="1.2"/>
<text x="316" y="230.4" font-family="'Liberation Serif', serif" font-size="12.5" fill="#333" textLength="34" lengthAdjust="spacingAndGlyphs">110-deg</text>
<text x="62" y="119.8" font-family="'Liberation Serif', serif" font-size="14.5" fill="#111">10</text><text x="77.5" y="113.3" font-family="'Liberation Serif', serif" font-size="11.5" fill="#111">10</text>
<text x="62" y="192.1" font-family="'Liberation Serif', serif" font-size="14.5" fill="#111">10</text><text x="77.5" y="185.6" font-family="'Liberation Serif', serif" font-size="11.5" fill="#111">9</text>
<text x="62" y="264.4" font-family="'Liberation Serif', serif" font-size="14.5" fill="#111">10</text><text x="77.5" y="257.9" font-family="'Liberation Serif', serif" font-size="11.5" fill="#111">8</text>
<text x="62" y="336.7" font-family="'Liberation Serif', serif" font-size="14.5" fill="#111">10</text><text x="77.5" y="330.2" font-family="'Liberation Serif', serif" font-size="11.5" fill="#111">7</text>
<text x="62" y="409" font-family="'Liberation Serif', serif" font-size="14.5" fill="#111">10</text><text x="77.5" y="402.5" font-family="'Liberation Serif', serif" font-size="11.5" fill="#111">6</text>
<text x="62" y="481.3" font-family="'Liberation Serif', serif" font-size="14.5" fill="#111">10</text><text x="77.5" y="474.8" font-family="'Liberation Serif', serif" font-size="11.5" fill="#111">5</text>
<text x="87.5" y="492.8" font-family="'Liberation Serif', serif" font-size="16.5" fill="#111" text-anchor="middle" textLength="7" lengthAdjust="spacingAndGlyphs">0</text>
<text x="142" y="492.8" font-family="'Liberation Serif', serif" font-size="16.5" fill="#111" text-anchor="middle" textLength="14.4" lengthAdjust="spacingAndGlyphs">10</text>
<text x="197" y="492.8" font-family="'Liberation Serif', serif" font-size="16.5" fill="#111" text-anchor="middle" textLength="14.4" lengthAdjust="spacingAndGlyphs">20</text>
<text x="251.5" y="492.8" font-family="'Liberation Serif', serif" font-size="16.5" fill="#111" text-anchor="middle" textLength="14.4" lengthAdjust="spacingAndGlyphs">30</text>
<text x="306" y="492.8" font-family="'Liberation Serif', serif" font-size="16.5" fill="#111" text-anchor="middle" textLength="14.4" lengthAdjust="spacingAndGlyphs">40</text>
<text x="361" y="492.8" font-family="'Liberation Serif', serif" font-size="16.5" fill="#111" text-anchor="middle" textLength="14.4" lengthAdjust="spacingAndGlyphs">50</text>
<text x="152" y="520" font-family="'Liberation Serif', serif" font-size="15.5" fill="#111" textLength="150.5" lengthAdjust="spacingAndGlyphs">Neutron energy [MeV]</text>
<text transform="translate(44.5 421.5) rotate(-90)" font-family="'Liberation Serif', serif" font-size="15" fill="#111" textLength="263.5" lengthAdjust="spacingAndGlyphs">Neutron yields [#• MeV<tspan dy="-5" font-size="10">-1</tspan><tspan dy="5">• sr</tspan><tspan dy="-5" font-size="10">-1</tspan><tspan dy="5">• μC</tspan><tspan dy="-5" font-size="10">-1</tspan><tspan dy="5">]</tspan></text>
<path d="M438.8 194.8H696.5" stroke="#6e6e6e" stroke-width="1"/><path d="M438.8 204H696.5" stroke="#6e6e6e" stroke-width="1"/><path d="M438.8 210.4H696.5" stroke="#6e6e6e" stroke-width="1"/><path d="M438.8 216.5H696.5" stroke="#6e6e6e" stroke-width="1"/><path d="M438.8 226.3H696.5" stroke="#6e6e6e" stroke-width="1"/><path d="M438.8 239.2H696.5" stroke="#6e6e6e" stroke-width="1"/><path d="M438.8 267.8H696.5" stroke="#6e6e6e" stroke-width="1"/><path d="M438.8 272.6H696.5" stroke="#6e6e6e" stroke-width="1"/><path d="M438.8 277.3H696.5" stroke="#6e6e6e" stroke-width="1"/><path d="M438.8 312.4H696.5" stroke="#6e6e6e" stroke-width="1"/><path d="M438.8 346.4H696.5" stroke="#6e6e6e" stroke-width="1"/><path d="M438.8 351.5H696.5" stroke="#6e6e6e" stroke-width="1"/><path d="M438.8 357.6H696.5" stroke="#6e6e6e" stroke-width="1"/><path d="M438.8 364.4H696.5" stroke="#6e6e6e" stroke-width="1"/><path d="M438.8 373.7H696.5" stroke="#6e6e6e" stroke-width="1"/><path d="M438.8 386.1H696.5" stroke="#6e6e6e" stroke-width="1"/><path d="M438.8 187.4H696.5" stroke="#222" stroke-width="1"/><path d="M438.8 261.3H696.5" stroke="#222" stroke-width="1"/><path d="M438.8 408.4H696.5" stroke="#222" stroke-width="1"/><path d="M438.8 338.4H696.5" stroke="#555" stroke-width="1"/><path d="M514.6 113.2V483" stroke="#6e6e6e" stroke-width="1"/><path d="M615.7 113.2V483" stroke="#6e6e6e" stroke-width="1"/><path d="M565.6 113.2V483" stroke="#444" stroke-width="1"/><path d="M489.5 113.2V483" stroke="#222" stroke-width="1"/><path d="M590.4 113.2V483" stroke="#222" stroke-width="1"/><path d="M691.8 113.2V483" stroke="#222" stroke-width="1"/>
<path d="M438.8 113.5H697" stroke="#333" stroke-width="1"/>
<path d="M438.8 483H697" stroke="#555" stroke-width="2"/>
<path d="M696.5 113V484" stroke="#111" stroke-width="1.2"/>
<g><polyline points="441,188 450,198 457,212 464,230" fill="none" stroke="#14147A" stroke-width="8" stroke-linejoin="round" stroke-linecap="round"/><polyline points="440,181 450,191 458,206 465,225" fill="none" stroke="#0B7A0B" stroke-width="5" stroke-linejoin="round" stroke-linecap="round"/><polyline points="440,176 450,188 458,203 466,222" fill="none" stroke="#f4f4f4" stroke-width="4" stroke-linejoin="round" stroke-linecap="round"/><polygon points="440,173.8 442.2,176 440,178.2 437.8,176" fill="#fff" stroke="#444444" stroke-width="0.7"/><polygon points="442.9,177.3 445.1,179.5 442.9,181.7 440.7,179.5" fill="#fff" stroke="#444444" stroke-width="0.7"/><polygon points="445.8,180.7 448,182.9 445.8,185.1 443.6,182.9" fill="#fff" stroke="#444444" stroke-width="0.7"/><polygon points="448.7,184.2 450.9,186.4 448.7,188.6 446.5,186.4" fill="#fff" stroke="#444444" stroke-width="0.7"/><polygon points="451.6,188.7 453.8,190.9 451.6,193.1 449.4,190.9" fill="#fff" stroke="#444444" stroke-width="0.7"/><polygon points="454.4,194.1 456.6,196.3 454.4,198.5 452.2,196.3" fill="#fff" stroke="#444444" stroke-width="0.7"/><polygon points="457.3,199.5 459.5,201.7 457.3,203.9 455.1,201.7" fill="#fff" stroke="#444444" stroke-width="0.7"/><polygon points="460.2,206.1 462.4,208.3 460.2,210.5 458,208.3" fill="#fff" stroke="#444444" stroke-width="0.7"/><polygon points="463.1,212.9 465.3,215.1 463.1,217.3 460.9,215.1" fill="#fff" stroke="#444444" stroke-width="0.7"/><polygon points="466,219.8 468.2,222 466,224.2 463.8,222" fill="#fff" stroke="#444444" stroke-width="0.7"/><polyline points="440,170 450,183 458,197 466,215" fill="none" stroke="#EB9233" stroke-width="5" stroke-linejoin="round" stroke-linecap="round"/><polyline points="444,168 451,177 459,190 467,207" fill="none" stroke="#14147A" stroke-width="6" stroke-linejoin="round" stroke-linecap="round"/><polyline points="444,168 451,177 459,190 467,207" fill="none" stroke="#fff" stroke-width="4" stroke-dasharray="1.5 2"/><polyline points="453,177 462,190 470,205" fill="none" stroke="#D09A9A" stroke-width="2" stroke-linejoin="round" stroke-linecap="round"/><polyline points="441,162.5 444,162.5" fill="none" stroke="#EE1515" stroke-width="4" stroke-linejoin="round" stroke-linecap="round"/><polyline points="440,166 445,166" fill="none" stroke="#14147A" stroke-width="2" stroke-linejoin="round" stroke-linecap="round"/><path d="M459.3 230.8H466.3M459.3 234H466.3" stroke="#0e0e38" stroke-width="1.5" fill="none"/><path d="M464.4 247.2H471.4M464.4 250.4H471.4" stroke="#0e0e38" stroke-width="1.5" fill="none"/><path d="M469.5 251.5H476.5M469.5 254.7H476.5" stroke="#0e0e38" stroke-width="1.5" fill="none"/><path d="M474.7 257.1H481.7M474.7 260.3H481.7" stroke="#0e0e38" stroke-width="1.5" fill="none"/><path d="M479.8 265.6H486.8M479.8 268.8H486.8" stroke="#0e0e38" stroke-width="1.5" fill="none"/><path d="M484.9 273H491.9M484.9 276.2H491.9" stroke="#0e0e38" stroke-width="1.5" fill="none"/><path d="M490 279.8H497M490 283H497" stroke="#0e0e38" stroke-width="1.5" fill="none"/><path d="M495.1 285.2H502.1M495.1 288.4H502.1" stroke="#0e0e38" stroke-width="1.5" fill="none"/><path d="M500.2 292H507.2M500.2 295.2H507.2" stroke="#0e0e38" stroke-width="1.5" fill="none"/><path d="M505.4 300.6H512.4M505.4 303.8H512.4" stroke="#0e0e38" stroke-width="1.5" fill="none"/><path d="M510.5 307.3H517.5M510.5 310.5H517.5" stroke="#0e0e38" stroke-width="1.5" fill="none"/><path d="M515.6 314.9H522.6M515.6 318.1H522.6" stroke="#0e0e38" stroke-width="1.5" fill="none"/><path d="M520.7 323.8H527.7M520.7 327H527.7" stroke="#0e0e38" stroke-width="1.5" fill="none"/><path d="M525.8 333.9H532.8M525.8 337.1H532.8" stroke="#0e0e38" stroke-width="1.5" fill="none"/><path d="M531 339H538M531 342.2H538" stroke="#0e0e38" stroke-width="1.5" fill="none"/><path d="M536.1 344.3H543.1M536.1 347.5H543.1" stroke="#0e0e38" stroke-width="1.5" fill="none"/><path d="M541.2 352.7H548.2M541.2 355.9H548.2" stroke="#0e0e38" stroke-width="1.5" fill="none"/><path d="M546.3 356.4H553.3M546.3 359.6H553.3" stroke="#0e0e38" stroke-width="1.5" fill="none"/><path d="M551.4 365.6H558.4M551.4 368.8H558.4" stroke="#0e0e38" stroke-width="1.5" fill="none"/><path d="M556.5 372.1H563.5M556.5 375.3H563.5" stroke="#0e0e38" stroke-width="1.5" fill="none"/><path d="M561.7 380.6H568.7M561.7 383.8H568.7" stroke="#0e0e38" stroke-width="1.5" fill="none"/><path d="M566.8 385.6H573.8M566.8 388.8H573.8" stroke="#0e0e38" stroke-width="1.5" fill="none"/><path d="M571.9 393.6H578.9M571.9 396.8H578.9" stroke="#0e0e38" stroke-width="1.5" fill="none"/><path d="M588 409V420M585 409H591M585 420H591" stroke="#111" stroke-width="1.1" fill="none"/><path d="M595.6 432V458M592.6 432H598.6M592.6 458H598.6" stroke="#111" stroke-width="1.1" fill="none"/><path d="M605.6 459V483M602.6 459H608.6M602.6 483H608.6" stroke="#111" stroke-width="1.1" fill="none"/><path d="M610.7 464V483M607.7 464H613.7M607.7 483H613.7" stroke="#111" stroke-width="1.1" fill="none"/><path d="M631 451V483M628 451H634M628 483H634" stroke="#111" stroke-width="1.1" fill="none"/><path d="M645.6 433V458M642.6 433H648.6M642.6 458H648.6" stroke="#111" stroke-width="1.1" fill="none"/><path d="M650.5 443V481M647.5 443H653.5M647.5 481H653.5" stroke="#111" stroke-width="1.1" fill="none"/><path d="M666 437V464M663 437H669M663 464H669" stroke="#111" stroke-width="1.1" fill="none"/><path d="M670.9 445V481M667.9 445H673.9M667.9 481H673.9" stroke="#111" stroke-width="1.1" fill="none"/><path d="M686.5 445V483M683.5 445H689.5M683.5 483H689.5" stroke="#111" stroke-width="1.1" fill="none"/><path d="M592 442H600" stroke="#8a8aa0" stroke-width="2"/><path d="M597 453H605" stroke="#8a8aa0" stroke-width="2"/><path d="M596 478H604" stroke="#8a8aa0" stroke-width="2"/><path d="M616.3 442.7H624.3" stroke="#8a8aa0" stroke-width="2"/><path d="M620.2 463H628.2" stroke="#8a8aa0" stroke-width="2"/><path d="M636.7 463H644.7" stroke="#8a8aa0" stroke-width="2"/><path d="M655.2 474.8H663.2" stroke="#8a8aa0" stroke-width="2"/><path d="M672.7 439.7H680.7" stroke="#8a8aa0" stroke-width="2"/><path d="M680.5 441.7H688.5" stroke="#8a8aa0" stroke-width="2"/><path d="M637.7 430H645.7" stroke="#8a8aa0" stroke-width="2"/><path d="M584 412H592M584 417H592M570 385.6H574M570 385.6V390M572 396.7H579M575.6 396.7V403M557 373H563M557 376H563" stroke="#1a1a60" stroke-width="1.3" fill="none"/><polygon points="464.6,234.1 469.4,238.9 464.6,243.7 459.8,238.9" fill="#0B7A0B"/><polygon points="470,238.1 474.8,242.9 470,247.7 465.2,242.9" fill="#0B7A0B"/><polygon points="475.5,243.5 480.3,248.3 475.5,253.1 470.7,248.3" fill="#0B7A0B"/><polygon points="480.9,249.9 485.7,254.7 480.9,259.5 476.1,254.7" fill="#0B7A0B"/><polygon points="486.3,257.1 491.1,261.9 486.3,266.7 481.5,261.9" fill="#0B7A0B"/><polygon points="491.7,264.1 496.5,268.9 491.7,273.7 486.9,268.9" fill="#0B7A0B"/><polygon points="497.1,270.6 501.9,275.4 497.1,280.2 492.3,275.4" fill="#0B7A0B"/><polygon points="502.6,277.6 507.4,282.4 502.6,287.2 497.8,282.4" fill="#0B7A0B"/><polygon points="508,283.1 512.8,287.9 508,292.7 503.2,287.9" fill="#0B7A0B"/><polygon points="513.4,291.1 518.2,295.9 513.4,300.7 508.6,295.9" fill="#0B7A0B"/><polygon points="518.9,298.5 523.6,303.3 518.9,308.1 514.1,303.3" fill="#0B7A0B"/><polygon points="524.3,305.2 529.1,310 524.3,314.8 519.5,310" fill="#0B7A0B"/><polygon points="529.7,309.9 534.5,314.7 529.7,319.5 524.9,314.7" fill="#0B7A0B"/><polygon points="535.1,317.2 539.9,322 535.1,326.8 530.3,322" fill="#0B7A0B"/><polygon points="540.5,323.2 545.3,328 540.5,332.8 535.8,328" fill="#0B7A0B"/><polygon points="546,328.1 550.8,332.9 546,337.7 541.2,332.9" fill="#0B7A0B"/><polygon points="551.4,334.5 556.2,339.3 551.4,344.1 546.6,339.3" fill="#0B7A0B"/><polygon points="556.8,340.6 561.6,345.4 556.8,350.2 552,345.4" fill="#0B7A0B"/><polygon points="562.2,346.5 567,351.3 562.2,356.1 557.5,351.3" fill="#0B7A0B"/><polygon points="567.7,353.1 572.5,357.9 567.7,362.7 562.9,357.9" fill="#0B7A0B"/><polygon points="573.1,357.8 577.9,362.6 573.1,367.4 568.3,362.6" fill="#0B7A0B"/><polygon points="578.5,366.4 583.3,371.2 578.5,376 573.7,371.2" fill="#0B7A0B"/><polygon points="583.9,368.5 588.7,373.3 583.9,378.1 579.1,373.3" fill="#0B7A0B"/><polygon points="589.4,378.8 594.2,383.6 589.4,388.4 584.6,383.6" fill="#0B7A0B"/><polygon points="594.8,385.8 599.6,390.6 594.8,395.4 590,390.6" fill="#0B7A0B"/><polygon points="599,396.2 603.8,401 599,405.8 594.2,401" fill="#0B7A0B"/><polygon points="604,396.2 608.8,401 604,405.8 599.2,401" fill="#0B7A0B"/><polygon points="609,419.2 613.8,424 609,428.8 604.2,424" fill="#0B7A0B"/><polygon points="614.5,419.2 619.3,424 614.5,428.8 609.7,424" fill="#0B7A0B"/><polygon points="619,447.6 623.8,452.4 619,457.2 614.2,452.4" fill="#0B7A0B"/><polygon points="624.5,447.6 629.3,452.4 624.5,457.2 619.7,452.4" fill="#0B7A0B"/><polygon points="631,459.2 635.8,464 631,468.8 626.2,464" fill="#0B7A0B"/><polygon points="635.9,473.9 640.7,478.7 635.9,483.5 631.1,478.7" fill="#0B7A0B"/><polygon points="472,231.5 475.7,235.2 472,238.9 468.3,235.2" fill="#fff" stroke="#444444" stroke-width="0.9"/><polygon points="477.1,237.6 480.8,241.3 477.1,245 473.4,241.3" fill="#fff" stroke="#444444" stroke-width="0.9"/><polygon points="482.3,243.4 486,247.1 482.3,250.8 478.6,247.1" fill="#fff" stroke="#444444" stroke-width="0.9"/><polygon points="487.4,247.5 491.1,251.2 487.4,254.9 483.7,251.2" fill="#fff" stroke="#444444" stroke-width="0.9"/><polygon points="492.5,251.6 496.2,255.3 492.5,259 488.8,255.3" fill="#fff" stroke="#444444" stroke-width="0.9"/><polygon points="497.7,255.7 501.4,259.4 497.7,263.1 494,259.4" fill="#fff" stroke="#444444" stroke-width="0.9"/><polygon points="502.8,260.5 506.5,264.2 502.8,267.9 499.1,264.2" fill="#fff" stroke="#444444" stroke-width="0.9"/><polygon points="508,265.6 511.7,269.3 508,273 504.3,269.3" fill="#fff" stroke="#444444" stroke-width="0.9"/><polygon points="513.1,271.6 516.8,275.3 513.1,279 509.4,275.3" fill="#fff" stroke="#444444" stroke-width="0.9"/><polygon points="518.2,277.7 521.9,281.4 518.2,285.1 514.5,281.4" fill="#fff" stroke="#444444" stroke-width="0.9"/><polygon points="523.4,282.8 527.1,286.5 523.4,290.2 519.7,286.5" fill="#fff" stroke="#444444" stroke-width="0.9"/><polygon points="528.5,288.1 532.2,291.8 528.5,295.5 524.8,291.8" fill="#fff" stroke="#444444" stroke-width="0.9"/><polygon points="533.6,294 537.3,297.7 533.6,301.4 529.9,297.7" fill="#fff" stroke="#444444" stroke-width="0.9"/><polygon points="538.8,299.2 542.5,302.9 538.8,306.6 535.1,302.9" fill="#fff" stroke="#444444" stroke-width="0.9"/><polygon points="543.9,304.3 547.6,308 543.9,311.7 540.2,308" fill="#fff" stroke="#444444" stroke-width="0.9"/><polygon points="549,309.6 552.8,313.3 549,317 545.3,313.3" fill="#fff" stroke="#444444" stroke-width="0.9"/><polygon points="554.2,316.3 557.9,320 554.2,323.7 550.5,320" fill="#fff" stroke="#444444" stroke-width="0.9"/><polygon points="559.3,324.6 563,328.3 559.3,332 555.6,328.3" fill="#fff" stroke="#444444" stroke-width="0.9"/><polygon points="564.5,329 568.2,332.7 564.5,336.4 560.8,332.7" fill="#fff" stroke="#444444" stroke-width="0.9"/><polygon points="569.6,332.1 573.3,335.8 569.6,339.5 565.9,335.8" fill="#fff" stroke="#444444" stroke-width="0.9"/><polygon points="574.7,337.1 578.4,340.8 574.7,344.5 571,340.8" fill="#fff" stroke="#444444" stroke-width="0.9"/><polygon points="579.9,342.8 583.6,346.5 579.9,350.2 576.2,346.5" fill="#fff" stroke="#444444" stroke-width="0.9"/><polygon points="585,347.1 588.7,350.8 585,354.5 581.3,350.8" fill="#fff" stroke="#444444" stroke-width="0.9"/><polygon points="590.1,351.4 593.8,355.1 590.1,358.8 586.4,355.1" fill="#fff" stroke="#444444" stroke-width="0.9"/><polygon points="595.3,360.6 599,364.3 595.3,368 591.6,364.3" fill="#fff" stroke="#444444" stroke-width="0.9"/><polygon points="600.4,366.5 604.1,370.2 600.4,373.9 596.7,370.2" fill="#fff" stroke="#444444" stroke-width="0.9"/><polygon points="605.6,372.9 609.3,376.6 605.6,380.3 601.9,376.6" fill="#fff" stroke="#444444" stroke-width="0.9"/><polygon points="610.7,381.6 614.4,385.3 610.7,389 607,385.3" fill="#fff" stroke="#444444" stroke-width="0.9"/><polygon points="615.8,391.5 619.5,395.2 615.8,398.9 612.1,395.2" fill="#fff" stroke="#444444" stroke-width="0.9"/><polygon points="621,398.7 624.7,402.4 621,406.1 617.3,402.4" fill="#fff" stroke="#444444" stroke-width="0.9"/><polygon points="626.1,405.9 629.8,409.6 626.1,413.3 622.4,409.6" fill="#fff" stroke="#444444" stroke-width="0.9"/><polygon points="631,420.5 634.7,424.2 631,427.9 627.3,424.2" fill="#fff" stroke="#444444" stroke-width="0.9"/><polygon points="635.9,434.1 639.6,437.8 635.9,441.5 632.2,437.8" fill="#fff" stroke="#444444" stroke-width="0.9"/><polygon points="641.7,443.8 645.4,447.5 641.7,451.2 638,447.5" fill="#fff" stroke="#444444" stroke-width="0.9"/><polygon points="645.6,439.9 649.3,443.6 645.6,447.3 641.9,443.6" fill="#fff" stroke="#444444" stroke-width="0.9"/><polygon points="650.5,453.6 654.2,457.3 650.5,461 646.8,457.3" fill="#fff" stroke="#444444" stroke-width="0.9"/><polygon points="656.3,451.6 660,455.3 656.3,459 652.6,455.3" fill="#fff" stroke="#444444" stroke-width="0.9"/><polygon points="661.2,451.6 664.9,455.3 661.2,459 657.5,455.3" fill="#fff" stroke="#444444" stroke-width="0.9"/><polygon points="468.3,229.5 464.8,223.2 471.8,223.2" fill="#EB9233"/><path d="M464.8 230H471.8" stroke="#111" stroke-width="1"/><polygon points="473.4,232.7 469.9,226.4 476.9,226.4" fill="#EB9233"/><path d="M469.9 233.2H476.9" stroke="#111" stroke-width="1"/><polygon points="478.5,236.8 475,230.5 482,230.5" fill="#EB9233"/><path d="M475 237.3H482" stroke="#111" stroke-width="1"/><polygon points="483.6,241.9 480.1,235.6 487.1,235.6" fill="#EB9233"/><path d="M480.1 242.4H487.1" stroke="#111" stroke-width="1"/><polygon points="488.6,246.9 485.1,240.6 492.1,240.6" fill="#EB9233"/><path d="M485.1 247.4H492.1" stroke="#111" stroke-width="1"/><polygon points="493.7,251.9 490.2,245.6 497.2,245.6" fill="#EB9233"/><path d="M490.2 252.4H497.2" stroke="#111" stroke-width="1"/><polygon points="498.8,255.2 495.3,248.9 502.3,248.9" fill="#EB9233"/><path d="M495.3 255.7H502.3" stroke="#111" stroke-width="1"/><polygon points="503.9,258.4 500.4,252.1 507.4,252.1" fill="#EB9233"/><path d="M500.4 258.9H507.4" stroke="#111" stroke-width="1"/><polygon points="509,261.9 505.5,255.6 512.5,255.6" fill="#EB9233"/><path d="M505.5 262.4H512.5" stroke="#111" stroke-width="1"/><polygon points="514.1,265.6 510.6,259.3 517.6,259.3" fill="#EB9233"/><path d="M510.6 266.1H517.6" stroke="#111" stroke-width="1"/><polygon points="519.1,269.7 515.6,263.4 522.6,263.4" fill="#EB9233"/><path d="M515.6 270.2H522.6" stroke="#111" stroke-width="1"/><polygon points="524.2,273.8 520.7,267.5 527.7,267.5" fill="#EB9233"/><path d="M520.7 274.3H527.7" stroke="#111" stroke-width="1"/><polygon points="529.3,277.9 525.8,271.6 532.8,271.6" fill="#EB9233"/><path d="M525.8 278.4H532.8" stroke="#111" stroke-width="1"/><polygon points="534.4,282.6 530.9,276.3 537.9,276.3" fill="#EB9233"/><path d="M530.9 283.1H537.9" stroke="#111" stroke-width="1"/><polygon points="539.5,287.6 536,281.3 543,281.3" fill="#EB9233"/><path d="M536 288.1H543" stroke="#111" stroke-width="1"/><polygon points="544.6,294.5 541.1,288.2 548.1,288.2" fill="#EB9233"/><path d="M541.1 295H548.1" stroke="#111" stroke-width="1"/><polygon points="549.7,298.8 546.2,292.5 553.2,292.5" fill="#EB9233"/><path d="M546.2 299.3H553.2" stroke="#111" stroke-width="1"/><polygon points="554.7,303.8 551.2,297.5 558.2,297.5" fill="#EB9233"/><path d="M551.2 304.3H558.2" stroke="#111" stroke-width="1"/><polygon points="559.8,312.6 556.3,306.3 563.3,306.3" fill="#EB9233"/><path d="M556.3 313.1H563.3" stroke="#111" stroke-width="1"/><polygon points="564.9,317.6 561.4,311.3 568.4,311.3" fill="#EB9233"/><path d="M561.4 318.1H568.4" stroke="#111" stroke-width="1"/><polygon points="570,323.8 566.5,317.5 573.5,317.5" fill="#EB9233"/><path d="M566.5 324.3H573.5" stroke="#111" stroke-width="1"/><polygon points="575.1,327.2 571.6,320.9 578.6,320.9" fill="#EB9233"/><path d="M571.6 327.7H578.6" stroke="#111" stroke-width="1"/><polygon points="580.2,331.3 576.7,325 583.7,325" fill="#EB9233"/><path d="M576.7 331.8H583.7" stroke="#111" stroke-width="1"/><polygon points="585.3,336.3 581.8,330 588.8,330" fill="#EB9233"/><path d="M581.8 336.8H588.8" stroke="#111" stroke-width="1"/><polygon points="590.3,342.3 586.8,336 593.8,336" fill="#EB9233"/><path d="M586.8 342.8H593.8" stroke="#111" stroke-width="1"/><polygon points="595.4,345.7 591.9,339.4 598.9,339.4" fill="#EB9233"/><path d="M591.9 346.2H598.9" stroke="#111" stroke-width="1"/><polygon points="600.5,350.7 597,344.4 604,344.4" fill="#EB9233"/><path d="M597 351.2H604" stroke="#111" stroke-width="1"/><polygon points="605.6,358.8 602.1,352.5 609.1,352.5" fill="#EB9233"/><path d="M602.1 359.3H609.1" stroke="#111" stroke-width="1"/><polygon points="610.7,366.4 607.2,360.1 614.2,360.1" fill="#EB9233"/><path d="M607.2 366.9H614.2" stroke="#111" stroke-width="1"/><polygon points="615.8,373.3 612.3,367 619.3,367" fill="#EB9233"/><path d="M612.3 373.8H619.3" stroke="#111" stroke-width="1"/><polygon points="620.8,377.6 617.3,371.3 624.3,371.3" fill="#EB9233"/><path d="M617.3 378.1H624.3" stroke="#111" stroke-width="1"/><polygon points="625.9,383.5 622.4,377.2 629.4,377.2" fill="#EB9233"/><path d="M622.4 384H629.4" stroke="#111" stroke-width="1"/><polygon points="631,394.9 627.5,388.6 634.5,388.6" fill="#EB9233"/><path d="M627.5 395.4H634.5" stroke="#111" stroke-width="1"/><polygon points="636.1,404.2 632.6,397.9 639.6,397.9" fill="#EB9233"/><path d="M632.6 404.7H639.6" stroke="#111" stroke-width="1"/><polygon points="640.7,422.8 637.2,416.5 644.2,416.5" fill="#EB9233"/><path d="M637.2 423.3H644.2" stroke="#111" stroke-width="1"/><polygon points="645.6,431.5 642.1,425.2 649.1,425.2" fill="#EB9233"/><path d="M642.1 432H649.1" stroke="#111" stroke-width="1"/><polygon points="650.5,445.2 647,438.9 654,438.9" fill="#EB9233"/><path d="M647 445.7H654" stroke="#111" stroke-width="1"/><polygon points="656.3,431.5 652.8,425.2 659.8,425.2" fill="#EB9233"/><path d="M652.8 432H659.8" stroke="#111" stroke-width="1"/><polygon points="661.2,444.2 657.7,437.9 664.7,437.9" fill="#EB9233"/><path d="M657.7 444.7H664.7" stroke="#111" stroke-width="1"/><polygon points="666,452 662.5,445.7 669.5,445.7" fill="#EB9233"/><path d="M662.5 452.5H669.5" stroke="#111" stroke-width="1"/><polygon points="670.9,461.7 667.4,455.4 674.4,455.4" fill="#EB9233"/><path d="M667.4 462.2H674.4" stroke="#111" stroke-width="1"/><path d="M466.5 215.4L469.3 220.2L472.1 215.4ZM465.3 215.4H473.3" stroke="#1a1a80" stroke-width="1" fill="none"/><path d="M471.6 220.5L474.4 225.3L477.2 220.5ZM470.4 220.5H478.4" stroke="#1a1a80" stroke-width="1" fill="none"/><path d="M476.6 225.5L479.4 230.3L482.2 225.5ZM475.4 225.5H483.4" stroke="#1a1a80" stroke-width="1" fill="none"/><path d="M481.7 230.6L484.5 235.4L487.3 230.6ZM480.5 230.6H488.5" stroke="#1a1a80" stroke-width="1" fill="none"/><path d="M486.7 234.7L489.5 239.5L492.3 234.7ZM485.5 234.7H493.5" stroke="#1a1a80" stroke-width="1" fill="none"/><path d="M491.8 238.7L494.6 243.5L497.4 238.7ZM490.6 238.7H498.6" stroke="#1a1a80" stroke-width="1" fill="none"/><path d="M496.8 242.3L499.6 247.1L502.4 242.3ZM495.6 242.3H503.6" stroke="#1a1a80" stroke-width="1" fill="none"/><path d="M501.9 245.5L504.7 250.3L507.5 245.5ZM500.7 245.5H508.7" stroke="#1a1a80" stroke-width="1" fill="none"/><path d="M506.9 247.5L509.7 252.3L512.5 247.5ZM505.7 247.5H513.7" stroke="#1a1a80" stroke-width="1" fill="none"/><path d="M512 249.8L514.8 254.6L517.6 249.8ZM510.8 249.8H518.8" stroke="#1a1a80" stroke-width="1" fill="none"/><path d="M517 252.3L519.8 257.1L522.6 252.3ZM515.8 252.3H523.8" stroke="#1a1a80" stroke-width="1" fill="none"/><path d="M522.1 255.4L524.9 260.2L527.7 255.4ZM520.9 255.4H528.9" stroke="#1a1a80" stroke-width="1" fill="none"/><path d="M527.1 258.9L529.9 263.7L532.7 258.9ZM525.9 258.9H533.9" stroke="#1a1a80" stroke-width="1" fill="none"/><path d="M532.2 262.6L535 267.4L537.8 262.6ZM531 262.6H539" stroke="#1a1a80" stroke-width="1" fill="none"/><path d="M537.3 266.5L540.1 271.3L542.9 266.5ZM536.1 266.5H544.1" stroke="#1a1a80" stroke-width="1" fill="none"/><path d="M542.3 270.6L545.1 275.4L547.9 270.6ZM541.1 270.6H549.1" stroke="#1a1a80" stroke-width="1" fill="none"/><path d="M547.4 275L550.2 279.8L553 275ZM546.2 275H554.2" stroke="#1a1a80" stroke-width="1" fill="none"/><path d="M552.4 280L555.2 284.8L558 280ZM551.2 280H559.2" stroke="#1a1a80" stroke-width="1" fill="none"/><path d="M557.5 285.1L560.3 289.9L563.1 285.1ZM556.3 285.1H564.3" stroke="#1a1a80" stroke-width="1" fill="none"/><path d="M562.5 290.2L565.3 295L568.1 290.2ZM561.3 290.2H569.3" stroke="#1a1a80" stroke-width="1" fill="none"/><path d="M567.6 294.6L570.4 299.4L573.2 294.6ZM566.4 294.6H574.4" stroke="#1a1a80" stroke-width="1" fill="none"/><path d="M572.6 298.6L575.4 303.4L578.2 298.6ZM571.4 298.6H579.4" stroke="#1a1a80" stroke-width="1" fill="none"/><path d="M577.7 302.6L580.5 307.4L583.3 302.6ZM576.5 302.6H584.5" stroke="#1a1a80" stroke-width="1" fill="none"/><path d="M582.7 306.7L585.5 311.5L588.3 306.7ZM581.5 306.7H589.5" stroke="#1a1a80" stroke-width="1" fill="none"/><path d="M587.8 312.3L590.6 317.1L593.4 312.3ZM586.6 312.3H594.6" stroke="#1a1a80" stroke-width="1" fill="none"/><path d="M592.9 318L595.7 322.8L598.5 318ZM591.7 318H599.7" stroke="#1a1a80" stroke-width="1" fill="none"/><path d="M597.9 322.6L600.7 327.4L603.5 322.6ZM596.7 322.6H604.7" stroke="#1a1a80" stroke-width="1" fill="none"/><path d="M603 326.2L605.8 331L608.6 326.2ZM601.8 326.2H609.8" stroke="#1a1a80" stroke-width="1" fill="none"/><path d="M608 332.7L610.8 337.5L613.6 332.7ZM606.8 332.7H614.8" stroke="#1a1a80" stroke-width="1" fill="none"/><path d="M613.1 339.6L615.9 344.4L618.7 339.6ZM611.9 339.6H619.9" stroke="#1a1a80" stroke-width="1" fill="none"/><path d="M618.1 348L620.9 352.8L623.7 348ZM616.9 348H624.9" stroke="#1a1a80" stroke-width="1" fill="none"/><path d="M623.2 352.3L626 357.1L628.8 352.3ZM622 352.3H630" stroke="#1a1a80" stroke-width="1" fill="none"/><path d="M628.2 359.1L631 363.9L633.8 359.1ZM627 359.1H635" stroke="#1a1a80" stroke-width="1" fill="none"/><path d="M633.3 367.1L636.1 371.9L638.9 367.1ZM632.1 367.1H640.1" stroke="#1a1a80" stroke-width="1" fill="none"/><path d="M638.3 380.6L641.1 385.4L643.9 380.6ZM637.1 380.6H645.1" stroke="#1a1a80" stroke-width="1" fill="none"/><path d="M643.4 387.7L646.2 392.5L649 387.7ZM642.2 387.7H650.2" stroke="#1a1a80" stroke-width="1" fill="none"/><path d="M648.4 395.5L651.2 400.3L654 395.5ZM647.2 395.5H655.2" stroke="#1a1a80" stroke-width="1" fill="none"/><path d="M653.5 405.4L656.3 410.2L659.1 405.4ZM652.3 405.4H660.3" stroke="#1a1a80" stroke-width="1" fill="none"/><path d="M663.2 407.4L666 412.2L668.8 407.4ZM662 407.4H670" stroke="#1a1a80" stroke-width="1" fill="none"/><path d="M668.1 417.1L670.9 421.9L673.7 417.1ZM666.9 417.1H674.9" stroke="#1a1a80" stroke-width="1" fill="none"/><path d="M673.9 427.8L676.7 432.6L679.5 427.8ZM672.7 427.8H680.7" stroke="#1a1a80" stroke-width="1" fill="none"/><path d="M678.8 450.2L681.6 455L684.4 450.2ZM677.6 450.2H685.6" stroke="#1a1a80" stroke-width="1" fill="none"/><path d="M683.7 471.6L686.5 476.4L689.3 471.6ZM682.5 471.6H690.5" stroke="#1a1a80" stroke-width="1" fill="none"/><rect x="465.1" y="207" width="6.4" height="6.4" fill="#7A0000"/><rect x="470.2" y="207.6" width="6.4" height="6.4" fill="#7A0000"/><rect x="475.2" y="209.6" width="6.4" height="6.4" fill="#7A0000"/><rect x="480.3" y="212.7" width="6.4" height="6.4" fill="#7A0000"/><rect x="485.3" y="215.9" width="6.4" height="6.4" fill="#7A0000"/><rect x="490.4" y="218.4" width="6.4" height="6.4" fill="#7A0000"/><rect x="495.4" y="220.3" width="6.4" height="6.4" fill="#7A0000"/><rect x="500.5" y="222.4" width="6.4" height="6.4" fill="#7A0000"/><rect x="505.5" y="224.5" width="6.4" height="6.4" fill="#7A0000"/><rect x="510.6" y="226" width="6.4" height="6.4" fill="#7A0000"/><rect x="515.6" y="227.6" width="6.4" height="6.4" fill="#7A0000"/><rect x="520.7" y="229" width="6.4" height="6.4" fill="#7A0000"/><rect x="525.8" y="230.7" width="6.4" height="6.4" fill="#7A0000"/><rect x="530.8" y="232.9" width="6.4" height="6.4" fill="#7A0000"/><rect x="535.9" y="235.2" width="6.4" height="6.4" fill="#7A0000"/><rect x="540.9" y="238.5" width="6.4" height="6.4" fill="#7A0000"/><rect x="546" y="242.7" width="6.4" height="6.4" fill="#7A0000"/><rect x="551" y="246.9" width="6.4" height="6.4" fill="#7A0000"/><rect x="556.1" y="251.6" width="6.4" height="6.4" fill="#7A0000"/><rect x="561.1" y="257.5" width="6.4" height="6.4" fill="#7A0000"/><rect x="566.2" y="261.9" width="6.4" height="6.4" fill="#7A0000"/><rect x="571.2" y="266.8" width="6.4" height="6.4" fill="#7A0000"/><rect x="576.3" y="271.9" width="6.4" height="6.4" fill="#7A0000"/><rect x="581.4" y="277.6" width="6.4" height="6.4" fill="#7A0000"/><rect x="586.4" y="282.9" width="6.4" height="6.4" fill="#7A0000"/><rect x="591.5" y="288" width="6.4" height="6.4" fill="#7A0000"/><rect x="596.5" y="293" width="6.4" height="6.4" fill="#7A0000"/><rect x="601.6" y="297.4" width="6.4" height="6.4" fill="#7A0000"/><rect x="606.6" y="303.3" width="6.4" height="6.4" fill="#7A0000"/><rect x="611.7" y="308.4" width="6.4" height="6.4" fill="#7A0000"/><rect x="616.7" y="316.5" width="6.4" height="6.4" fill="#7A0000"/><rect x="621.8" y="323.3" width="6.4" height="6.4" fill="#7A0000"/><rect x="626.9" y="333.4" width="6.4" height="6.4" fill="#7A0000"/><rect x="631.9" y="341.4" width="6.4" height="6.4" fill="#7A0000"/><rect x="637" y="351.1" width="6.4" height="6.4" fill="#7A0000"/><rect x="642" y="363.4" width="6.4" height="6.4" fill="#7A0000"/><rect x="647.1" y="370.8" width="6.4" height="6.4" fill="#7A0000"/><rect x="652.1" y="373.1" width="6.4" height="6.4" fill="#7A0000"/><rect x="657.2" y="377.4" width="6.4" height="6.4" fill="#7A0000"/><rect x="662.2" y="390.4" width="6.4" height="6.4" fill="#7A0000"/><rect x="667.3" y="396.6" width="6.4" height="6.4" fill="#7A0000"/><rect x="672.3" y="403.7" width="6.4" height="6.4" fill="#7A0000"/><rect x="677.4" y="413.2" width="6.4" height="6.4" fill="#7A0000"/><rect x="683.3" y="462.8" width="6.4" height="6.4" fill="#7A0000"/><rect x="688.1" y="473.5" width="6.4" height="6.4" fill="#7A0000"/><path d="M463.2 192H467.2V198H473.2V192M467.2 192V190" stroke="#D09A9A" stroke-width="1.1" fill="none"/><path d="M471.3 192.9H475.3V198.9H481.3V192.9M475.3 192.9V190.9" stroke="#D09A9A" stroke-width="1.1" fill="none"/><path d="M479.4 195.9H483.4V201.9H489.4V195.9M483.4 195.9V193.9" stroke="#D09A9A" stroke-width="1.1" fill="none"/><path d="M487.6 198.8H491.6V204.8H497.6V198.8M491.6 198.8V196.8" stroke="#D09A9A" stroke-width="1.1" fill="none"/><path d="M495.7 201.3H499.7V207.3H505.7V201.3M499.7 201.3V199.3" stroke="#D09A9A" stroke-width="1.1" fill="none"/><path d="M503.8 204.3H507.8V210.3H513.8V204.3M507.8 204.3V202.3" stroke="#D09A9A" stroke-width="1.1" fill="none"/><path d="M511.9 207.5H515.9V213.5H521.9V207.5M515.9 207.5V205.5" stroke="#D09A9A" stroke-width="1.1" fill="none"/><path d="M520 210.3H524V216.3H530V210.3M524 210.3V208.3" stroke="#D09A9A" stroke-width="1.1" fill="none"/><path d="M528.2 212.1H532.2V218.1H538.2V212.1M532.2 212.1V210.1" stroke="#D09A9A" stroke-width="1.1" fill="none"/><path d="M536.3 216.8H540.3V222.8H546.3V216.8M540.3 216.8V214.8" stroke="#D09A9A" stroke-width="1.1" fill="none"/><path d="M544.4 223.8H548.4V229.8H554.4V223.8M548.4 223.8V221.8" stroke="#D09A9A" stroke-width="1.1" fill="none"/><path d="M552.5 230.3H556.5V236.3H562.5V230.3M556.5 230.3V228.3" stroke="#D09A9A" stroke-width="1.1" fill="none"/><path d="M560.6 237.1H564.6V243.1H570.6V237.1M564.6 237.1V235.1" stroke="#D09A9A" stroke-width="1.1" fill="none"/><path d="M568.7 244.1H572.7V250.1H578.7V244.1M572.7 244.1V242.1" stroke="#D09A9A" stroke-width="1.1" fill="none"/><path d="M576.9 251.4H580.9V257.4H586.9V251.4M580.9 251.4V249.4" stroke="#D09A9A" stroke-width="1.1" fill="none"/><path d="M585 257.9H589V263.9H595V257.9M589 257.9V255.9" stroke="#D09A9A" stroke-width="1.1" fill="none"/><path d="M593.1 264.8H597.1V270.8H603.1V264.8M597.1 264.8V262.8" stroke="#D09A9A" stroke-width="1.1" fill="none"/><path d="M601.2 271.8H605.2V277.8H611.2V271.8M605.2 271.8V269.8" stroke="#D09A9A" stroke-width="1.1" fill="none"/><path d="M609.3 281.6H613.3V287.6H619.3V281.6M613.3 281.6V279.6" stroke="#D09A9A" stroke-width="1.1" fill="none"/><path d="M617.5 293.2H621.5V299.2H627.5V293.2M621.5 293.2V291.2" stroke="#D09A9A" stroke-width="1.1" fill="none"/><path d="M625.6 305.1H629.6V311.1H635.6V305.1M629.6 305.1V303.1" stroke="#D09A9A" stroke-width="1.1" fill="none"/><path d="M633.7 322.7H637.7V328.7H643.7V322.7M637.7 322.7V320.7" stroke="#D09A9A" stroke-width="1.1" fill="none"/><path d="M654.1 354.2H658.1V360.2H664.1V354.2M658.1 354.2V352.2" stroke="#D09A9A" stroke-width="1.1" fill="none"/><path d="M658.7 354.2H662.7V360.2H668.7V354.2M662.7 354.2V352.2" stroke="#D09A9A" stroke-width="1.1" fill="none"/><path d="M668.9 363.5H672.9V369.5H678.9V363.5M672.9 363.5V361.5" stroke="#D09A9A" stroke-width="1.1" fill="none"/><path d="M673.6 383.9H677.6V389.9H683.6V383.9M677.6 383.9V381.9" stroke="#D09A9A" stroke-width="1.1" fill="none"/><path d="M679.1 397.7H683.1V403.7H689.1V397.7M683.1 397.7V395.7" stroke="#D09A9A" stroke-width="1.1" fill="none"/><polygon points="468.3,187.8 464.8,194.1 471.8,194.1" fill="#0A0ACC"/><polygon points="473.4,184.4 469.9,190.7 476.9,190.7" fill="#0A0ACC"/><polygon points="478.4,182.3 474.9,188.6 481.9,188.6" fill="#0A0ACC"/><polygon points="483.5,180.3 480,186.6 487,186.6" fill="#0A0ACC"/><polygon points="488.6,178.6 485.1,184.9 492.1,184.9" fill="#0A0ACC"/><polygon points="493.7,176.9 490.2,183.2 497.2,183.2" fill="#0A0ACC"/><polygon points="498.7,177.8 495.2,184.1 502.2,184.1" fill="#0A0ACC"/><polygon points="503.8,179.1 500.3,185.4 507.3,185.4" fill="#0A0ACC"/><polygon points="508.9,180.9 505.4,187.2 512.4,187.2" fill="#0A0ACC"/><polygon points="514,182.9 510.5,189.2 517.5,189.2" fill="#0A0ACC"/><polygon points="519,186.3 515.5,192.6 522.5,192.6" fill="#0A0ACC"/><polygon points="524.1,189.7 520.6,196 527.6,196" fill="#0A0ACC"/><polygon points="529.2,191.8 525.7,198.1 532.7,198.1" fill="#0A0ACC"/><polygon points="534.3,194.7 530.8,201 537.8,201" fill="#0A0ACC"/><polygon points="539.3,198.1 535.8,204.4 542.8,204.4" fill="#0A0ACC"/><polygon points="544.4,201.3 540.9,207.6 547.9,207.6" fill="#0A0ACC"/><polygon points="549.5,205 546,211.3 553,211.3" fill="#0A0ACC"/><polygon points="554.6,208.8 551.1,215.1 558.1,215.1" fill="#0A0ACC"/><polygon points="559.6,212.6 556.1,218.9 563.1,218.9" fill="#0A0ACC"/><polygon points="564.7,217.1 561.2,223.4 568.2,223.4" fill="#0A0ACC"/><polygon points="569.8,221.2 566.3,227.5 573.3,227.5" fill="#0A0ACC"/><polygon points="574.8,225 571.3,231.3 578.3,231.3" fill="#0A0ACC"/><polygon points="579.9,229.7 576.4,236 583.4,236" fill="#0A0ACC"/><polygon points="585,234.4 581.5,240.7 588.5,240.7" fill="#0A0ACC"/><polygon points="590.1,240 586.6,246.3 593.6,246.3" fill="#0A0ACC"/><polygon points="595.1,245.4 591.6,251.7 598.6,251.7" fill="#0A0ACC"/><polygon points="600.2,248.8 596.7,255.1 603.7,255.1" fill="#0A0ACC"/><polygon points="605.3,252.2 601.8,258.5 608.8,258.5" fill="#0A0ACC"/><polygon points="610.4,258 606.9,264.3 613.9,264.3" fill="#0A0ACC"/><polygon points="615.4,265.9 611.9,272.2 618.9,272.2" fill="#0A0ACC"/><polygon points="620.5,273.9 617,280.2 624,280.2" fill="#0A0ACC"/><polygon points="625.6,284.2 622.1,290.5 629.1,290.5" fill="#0A0ACC"/><polygon points="630.7,291.9 627.2,298.2 634.2,298.2" fill="#0A0ACC"/><polygon points="635.7,301.7 632.2,308 639.2,308" fill="#0A0ACC"/><polygon points="640.8,314.6 637.3,320.9 644.3,320.9" fill="#0A0ACC"/><polygon points="645.9,320.8 642.4,327.1 649.4,327.1" fill="#0A0ACC"/><polygon points="651,327 647.5,333.3 654.5,333.3" fill="#0A0ACC"/><polygon points="656,336.2 652.5,342.5 659.5,342.5" fill="#0A0ACC"/><polygon points="661.1,343.5 657.6,349.8 664.6,349.8" fill="#0A0ACC"/><polygon points="671.3,359.3 667.8,365.6 674.8,365.6" fill="#0A0ACC"/><polygon points="681.5,371.3 678,377.6 685,377.6" fill="#0A0ACC"/><polygon points="686.1,385.2 682.6,391.5 689.6,391.5" fill="#0A0ACC"/><polygon points="697,441.1 693.5,447.4 700.5,447.4" fill="#0A0ACC"/><polygon points="468.3,181.3 464.8,187.6 471.8,187.6" fill="#fff" stroke="#3DC83D" stroke-width="1"/><path d="M466.3 188.6H469.3" stroke="#222" stroke-width="1"/><polygon points="473.4,176.3 469.9,182.6 476.9,182.6" fill="#fff" stroke="#3DC83D" stroke-width="1"/><path d="M471.4 183.6H474.4" stroke="#222" stroke-width="1"/><polygon points="478.5,172.7 475,179 482,179" fill="#fff" stroke="#3DC83D" stroke-width="1"/><path d="M476.5 180H479.5" stroke="#222" stroke-width="1"/><polygon points="483.6,170 480.1,176.3 487.1,176.3" fill="#fff" stroke="#3DC83D" stroke-width="1"/><path d="M481.6 177.3H484.6" stroke="#222" stroke-width="1"/><polygon points="488.6,168.6 485.1,174.9 492.1,174.9" fill="#fff" stroke="#3DC83D" stroke-width="1"/><path d="M486.6 175.9H489.6" stroke="#222" stroke-width="1"/><polygon points="493.7,167.6 490.2,173.9 497.2,173.9" fill="#fff" stroke="#3DC83D" stroke-width="1"/><path d="M491.7 174.9H494.7" stroke="#222" stroke-width="1"/><polygon points="498.8,167.5 495.3,173.8 502.3,173.8" fill="#fff" stroke="#3DC83D" stroke-width="1"/><path d="M496.8 174.8H499.8" stroke="#222" stroke-width="1"/><polygon points="503.9,167.6 500.4,173.9 507.4,173.9" fill="#fff" stroke="#3DC83D" stroke-width="1"/><path d="M501.9 174.9H504.9" stroke="#222" stroke-width="1"/><polygon points="509,168.6 505.5,174.9 512.5,174.9" fill="#fff" stroke="#3DC83D" stroke-width="1"/><path d="M507 175.9H510" stroke="#222" stroke-width="1"/><polygon points="514.1,169.9 510.6,176.2 517.6,176.2" fill="#fff" stroke="#3DC83D" stroke-width="1"/><path d="M512.1 177.2H515.1" stroke="#222" stroke-width="1"/><polygon points="519.2,172.5 515.7,178.8 522.7,178.8" fill="#fff" stroke="#3DC83D" stroke-width="1"/><path d="M517.2 179.8H520.2" stroke="#222" stroke-width="1"/><polygon points="524.3,175.7 520.8,182 527.8,182" fill="#fff" stroke="#3DC83D" stroke-width="1"/><path d="M522.3 183H525.3" stroke="#222" stroke-width="1"/><polygon points="529.3,179.7 525.8,186 532.8,186" fill="#fff" stroke="#3DC83D" stroke-width="1"/><path d="M527.3 187H530.3" stroke="#222" stroke-width="1"/><polygon points="534.4,183 530.9,189.3 537.9,189.3" fill="#fff" stroke="#3DC83D" stroke-width="1"/><path d="M532.4 190.3H535.4" stroke="#222" stroke-width="1"/><polygon points="539.5,186.4 536,192.7 543,192.7" fill="#fff" stroke="#3DC83D" stroke-width="1"/><path d="M537.5 193.7H540.5" stroke="#222" stroke-width="1"/><polygon points="544.6,190.2 541.1,196.5 548.1,196.5" fill="#fff" stroke="#3DC83D" stroke-width="1"/><path d="M542.6 197.5H545.6" stroke="#222" stroke-width="1"/><polygon points="549.7,194 546.2,200.3 553.2,200.3" fill="#fff" stroke="#3DC83D" stroke-width="1"/><path d="M547.7 201.3H550.7" stroke="#222" stroke-width="1"/><polygon points="554.8,198.2 551.3,204.5 558.3,204.5" fill="#fff" stroke="#3DC83D" stroke-width="1"/><path d="M552.8 205.5H555.8" stroke="#222" stroke-width="1"/><polygon points="559.9,202.7 556.4,209 563.4,209" fill="#fff" stroke="#3DC83D" stroke-width="1"/><path d="M557.9 210H560.9" stroke="#222" stroke-width="1"/><polygon points="564.9,207.7 561.4,214 568.4,214" fill="#fff" stroke="#3DC83D" stroke-width="1"/><path d="M562.9 215H565.9" stroke="#222" stroke-width="1"/><polygon points="570,212.8 566.5,219.1 573.5,219.1" fill="#fff" stroke="#3DC83D" stroke-width="1"/><path d="M568 220.1H571" stroke="#222" stroke-width="1"/><polygon points="575.1,217.9 571.6,224.2 578.6,224.2" fill="#fff" stroke="#3DC83D" stroke-width="1"/><path d="M573.1 225.2H576.1" stroke="#222" stroke-width="1"/><polygon points="580.2,222.9 576.7,229.2 583.7,229.2" fill="#fff" stroke="#3DC83D" stroke-width="1"/><path d="M578.2 230.2H581.2" stroke="#222" stroke-width="1"/><polygon points="585.3,229.1 581.8,235.4 588.8,235.4" fill="#fff" stroke="#3DC83D" stroke-width="1"/><path d="M583.3 236.4H586.3" stroke="#222" stroke-width="1"/><polygon points="590.4,235.2 586.9,241.5 593.9,241.5" fill="#fff" stroke="#3DC83D" stroke-width="1"/><path d="M588.4 242.5H591.4" stroke="#222" stroke-width="1"/><polygon points="595.5,240.8 592,247.1 599,247.1" fill="#fff" stroke="#3DC83D" stroke-width="1"/><path d="M593.5 248.1H596.5" stroke="#222" stroke-width="1"/><polygon points="600.5,243.4 597,249.7 604,249.7" fill="#fff" stroke="#3DC83D" stroke-width="1"/><path d="M598.5 250.7H601.5" stroke="#222" stroke-width="1"/><polygon points="605.6,246.7 602.1,253 609.1,253" fill="#fff" stroke="#3DC83D" stroke-width="1"/><path d="M603.6 254H606.6" stroke="#222" stroke-width="1"/><polygon points="610.7,250.3 607.2,256.6 614.2,256.6" fill="#fff" stroke="#3DC83D" stroke-width="1"/><path d="M608.7 257.6H611.7" stroke="#222" stroke-width="1"/><polygon points="615.8,258.3 612.3,264.6 619.3,264.6" fill="#fff" stroke="#3DC83D" stroke-width="1"/><path d="M613.8 265.6H616.8" stroke="#222" stroke-width="1"/><polygon points="620.9,264.9 617.4,271.2 624.4,271.2" fill="#fff" stroke="#3DC83D" stroke-width="1"/><path d="M618.9 272.2H621.9" stroke="#222" stroke-width="1"/><polygon points="626,274.7 622.5,281 629.5,281" fill="#fff" stroke="#3DC83D" stroke-width="1"/><path d="M624 282H627" stroke="#222" stroke-width="1"/><polygon points="631.1,283.2 627.6,289.5 634.6,289.5" fill="#fff" stroke="#3DC83D" stroke-width="1"/><path d="M629.1 290.5H632.1" stroke="#222" stroke-width="1"/><polygon points="636.2,295.1 632.7,301.4 639.7,301.4" fill="#fff" stroke="#3DC83D" stroke-width="1"/><path d="M634.2 302.4H637.2" stroke="#222" stroke-width="1"/><polygon points="641.2,302.6 637.7,308.9 644.7,308.9" fill="#fff" stroke="#3DC83D" stroke-width="1"/><path d="M639.2 309.9H642.2" stroke="#222" stroke-width="1"/><polygon points="646.3,312.6 642.8,318.9 649.8,318.9" fill="#fff" stroke="#3DC83D" stroke-width="1"/><path d="M644.3 319.9H647.3" stroke="#222" stroke-width="1"/><polygon points="651.4,318.9 647.9,325.2 654.9,325.2" fill="#fff" stroke="#3DC83D" stroke-width="1"/><path d="M649.4 326.2H652.4" stroke="#222" stroke-width="1"/><polygon points="656.5,328.7 653,335 660,335" fill="#fff" stroke="#3DC83D" stroke-width="1"/><path d="M654.5 336H657.5" stroke="#222" stroke-width="1"/><polygon points="671.3,348.2 667.8,354.5 674.8,354.5" fill="#fff" stroke="#3DC83D" stroke-width="1"/><path d="M669.3 355.5H672.3" stroke="#222" stroke-width="1"/><polygon points="681.5,361.1 678,367.4 685,367.4" fill="#fff" stroke="#3DC83D" stroke-width="1"/><path d="M679.5 368.4H682.5" stroke="#222" stroke-width="1"/><polygon points="690.7,389.8 687.2,396.1 694.2,396.1" fill="#fff" stroke="#3DC83D" stroke-width="1"/><path d="M688.7 397.1H691.7" stroke="#222" stroke-width="1"/><polygon points="697,411 693.5,417.3 700.5,417.3" fill="#fff" stroke="#3DC83D" stroke-width="1"/><path d="M695 418.3H698" stroke="#222" stroke-width="1"/><polygon points="446,164 458,167 463,168 467,163 471,163 470,176 458,176 447,171" fill="#EE1515"/><circle cx="468.3" cy="169" r="3.3" fill="#EE1515"/><circle cx="473.4" cy="163.2" r="3.3" fill="#EE1515"/><circle cx="478.5" cy="157" r="3.3" fill="#EE1515"/><circle cx="483.6" cy="152.8" r="3.3" fill="#EE1515"/><circle cx="488.6" cy="148.7" r="3.3" fill="#EE1515"/><circle cx="493.7" cy="146.3" r="3.3" fill="#EE1515"/><circle cx="498.8" cy="144.4" r="3.3" fill="#EE1515"/><circle cx="503.9" cy="142.7" r="3.3" fill="#EE1515"/><circle cx="509" cy="141.6" r="3.3" fill="#EE1515"/><circle cx="514.1" cy="141.8" r="3.3" fill="#EE1515"/><circle cx="519.2" cy="143.1" r="3.3" fill="#EE1515"/><circle cx="524.3" cy="145.2" r="3.3" fill="#EE1515"/><circle cx="529.3" cy="148.1" r="3.3" fill="#EE1515"/><circle cx="534.4" cy="151.5" r="3.3" fill="#EE1515"/><circle cx="539.5" cy="154.6" r="3.3" fill="#EE1515"/><circle cx="544.6" cy="159.4" r="3.3" fill="#EE1515"/><circle cx="549.7" cy="165.7" r="3.3" fill="#EE1515"/><circle cx="554.8" cy="172.3" r="3.3" fill="#EE1515"/><circle cx="559.9" cy="179.3" r="3.3" fill="#EE1515"/><circle cx="564.9" cy="186.2" r="3.3" fill="#EE1515"/><circle cx="570" cy="194.1" r="3.3" fill="#EE1515"/><circle cx="575.1" cy="199.1" r="3.3" fill="#EE1515"/><circle cx="580.2" cy="205.2" r="3.3" fill="#EE1515"/><circle cx="585.3" cy="210.3" r="3.3" fill="#EE1515"/><circle cx="590.4" cy="215.3" r="3.3" fill="#EE1515"/><circle cx="595.5" cy="218.7" r="3.3" fill="#EE1515"/><circle cx="600.6" cy="223.6" r="3.3" fill="#EE1515"/><circle cx="605.6" cy="228.1" r="3.3" fill="#EE1515"/><circle cx="610.7" cy="233.3" r="3.3" fill="#EE1515"/><circle cx="615.8" cy="238.4" r="3.3" fill="#EE1515"/><circle cx="620.9" cy="243.5" r="3.3" fill="#EE1515"/><circle cx="626" cy="253.2" r="3.3" fill="#EE1515"/><circle cx="631.1" cy="258.7" r="3.3" fill="#EE1515"/><circle cx="636.2" cy="267.1" r="3.3" fill="#EE1515"/><circle cx="641.2" cy="273.8" r="3.3" fill="#EE1515"/><circle cx="646.3" cy="283.7" r="3.3" fill="#EE1515"/><circle cx="651.4" cy="293.6" r="3.3" fill="#EE1515"/><circle cx="656.5" cy="299.7" r="3.3" fill="#EE1515"/><circle cx="661.6" cy="309.2" r="3.3" fill="#EE1515"/><circle cx="666.7" cy="313.5" r="3.3" fill="#EE1515"/><circle cx="671.8" cy="314.7" r="3.3" fill="#EE1515"/><circle cx="676.9" cy="318.9" r="3.3" fill="#EE1515"/><circle cx="681.9" cy="330.4" r="3.3" fill="#EE1515"/><circle cx="687" cy="347.3" r="3.3" fill="#EE1515"/><circle cx="692.1" cy="370.6" r="3.3" fill="#EE1515"/><circle cx="697.2" cy="409.6" r="3.3" fill="#EE1515"/></g>
<rect x="485.5" y="389.5" width="42" height="51.5" fill="#fff" stroke="#111" stroke-width="1"/>
<text x="493" y="430.6" font-family="'Liberation Sans', sans-serif" font-size="23" fill="#33339A" stroke="#33339A" stroke-width="0.5" textLength="22" lengthAdjust="spacingAndGlyphs">Al</text>
<rect x="628.5" y="116.5" width="65" height="117.5" fill="#fff"/>
<path d="M628.5 117H694" stroke="#555" stroke-width="2"/>
<path d="M629 116.5V234" stroke="#111" stroke-width="1"/>
<rect x="692.6" y="118.5" width="2" height="117" fill="#000"/>
<rect x="630" y="234" width="64.6" height="2" fill="#000"/>
<circle cx="641.1" cy="125" r="3.5" fill="#EE1515"/>
<text x="654" y="129" font-family="'Liberation Serif', serif" font-size="12.5" fill="#222" textLength="25" lengthAdjust="spacingAndGlyphs">0-deg</text>
<polygon points="641.1,132.8 637.6,139.1 644.6,139.1" fill="#fff" stroke="#3DC83D" stroke-width="1"/><path d="M639.1 140.1H642.1" stroke="#222" stroke-width="1"/>
<text x="654" y="140.3" font-family="'Liberation Serif', serif" font-size="12.5" fill="#222" textLength="30" lengthAdjust="spacingAndGlyphs">10-deg</text>
<polygon points="641.1,144.1 637.6,150.4 644.6,150.4" fill="#0A0ACC"/>
<text x="654" y="151.6" font-family="'Liberation Serif', serif" font-size="12.5" fill="#222" textLength="30" lengthAdjust="spacingAndGlyphs">15-deg</text>
<path d="M638.1 155.9V161.9H644.1V155.9" stroke="#D09A9A" fill="none" stroke-width="1"/>
<text x="654" y="162.9" font-family="'Liberation Serif', serif" font-size="12.5" fill="#222" textLength="30" lengthAdjust="spacingAndGlyphs">20-deg</text>
<rect x="637.6" y="166.7" width="7" height="7" fill="#7A0000"/>
<text x="654" y="174.2" font-family="'Liberation Serif', serif" font-size="12.5" fill="#222" textLength="30" lengthAdjust="spacingAndGlyphs">30-deg</text>
<path d="M638.1 179L641.1 184.5L644.1 178.5" stroke="#14147A" fill="none" stroke-width="1.1"/>
<text x="654" y="185.5" font-family="'Liberation Serif', serif" font-size="12.5" fill="#222" textLength="30" lengthAdjust="spacingAndGlyphs">45-deg</text>
<polygon points="641.1,196.6 637.3,189.8 644.9,189.8" fill="#EB9233"/>
<text x="654" y="196.8" font-family="'Liberation Serif', serif" font-size="12.5" fill="#222" textLength="30" lengthAdjust="spacingAndGlyphs">60-deg</text>
<polygon points="641.1,200.4 644.8,204.1 641.1,207.8 637.4,204.1" fill="#fff" stroke="#444444" stroke-width="0.9"/>
<text x="654" y="208.1" font-family="'Liberation Serif', serif" font-size="12.5" fill="#222" textLength="30" lengthAdjust="spacingAndGlyphs">75-deg</text>
<polygon points="641.1,210.6 645.9,215.4 641.1,220.2 636.3,215.4" fill="#0B7A0B"/>
<text x="654" y="219.4" font-family="'Liberation Serif', serif" font-size="12.5" fill="#222" textLength="30" lengthAdjust="spacingAndGlyphs">90-deg</text>
<path d="M638.1 226.7H644.1" stroke="#111" stroke-width="1.2"/>
<text x="654" y="230.7" font-family="'Liberation Serif', serif" font-size="12.5" fill="#222" textLength="35" lengthAdjust="spacingAndGlyphs">110-deg</text>
<text x="414.4" y="117.7" font-family="'Liberation Serif', serif" font-size="14.5" fill="#111">10</text><text x="429.9" y="111.2" font-family="'Liberation Serif', serif" font-size="11.5" fill="#111">10</text>
<text x="414.4" y="191.7" font-family="'Liberation Serif', serif" font-size="14.5" fill="#111">10</text><text x="429.9" y="185.2" font-family="'Liberation Serif', serif" font-size="11.5" fill="#111">9</text>
<text x="414.4" y="265.6" font-family="'Liberation Serif', serif" font-size="14.5" fill="#111">10</text><text x="429.9" y="259.1" font-family="'Liberation Serif', serif" font-size="11.5" fill="#111">8</text>
<text x="414.4" y="339.6" font-family="'Liberation Serif', serif" font-size="14.5" fill="#111">10</text><text x="429.9" y="333.1" font-family="'Liberation Serif', serif" font-size="11.5" fill="#111">7</text>
<text x="414.4" y="413.5" font-family="'Liberation Serif', serif" font-size="14.5" fill="#111">10</text><text x="429.9" y="407" font-family="'Liberation Serif', serif" font-size="11.5" fill="#111">6</text>
<text x="414.4" y="487.5" font-family="'Liberation Serif', serif" font-size="14.5" fill="#111">10</text><text x="429.9" y="481" font-family="'Liberation Serif', serif" font-size="11.5" fill="#111">5</text>
<text x="438.5" y="497.8" font-family="'Liberation Serif', serif" font-size="16.5" fill="#111" text-anchor="middle" textLength="7" lengthAdjust="spacingAndGlyphs">0</text>
<text x="490.5" y="497.8" font-family="'Liberation Serif', serif" font-size="16.5" fill="#111" text-anchor="middle" textLength="14.4" lengthAdjust="spacingAndGlyphs">10</text>
<text x="540.5" y="497.8" font-family="'Liberation Serif', serif" font-size="16.5" fill="#111" text-anchor="middle" textLength="14.4" lengthAdjust="spacingAndGlyphs">20</text>
<text x="591" y="497.8" font-family="'Liberation Serif', serif" font-size="16.5" fill="#111" text-anchor="middle" textLength="14.4" lengthAdjust="spacingAndGlyphs">30</text>
<text x="641" y="497.8" font-family="'Liberation Serif', serif" font-size="16.5" fill="#111" text-anchor="middle" textLength="14.4" lengthAdjust="spacingAndGlyphs">40</text>
<text x="692" y="497.8" font-family="'Liberation Serif', serif" font-size="16.5" fill="#111" text-anchor="middle" textLength="14.4" lengthAdjust="spacingAndGlyphs">50</text>
<text x="500" y="526" font-family="'Liberation Serif', serif" font-size="15.5" fill="#111" textLength="140" lengthAdjust="spacingAndGlyphs">Neutron energy [MeV]</text>
<text transform="translate(399.4 424.3) rotate(-90)" font-family="'Liberation Serif', serif" font-size="15" fill="#111" textLength="268" lengthAdjust="spacingAndGlyphs">Neutron yields [#• MeV<tspan dy="-5" font-size="10">-1</tspan><tspan dy="5">• sr</tspan><tspan dy="-5" font-size="10">-1</tspan><tspan dy="5">• μC</tspan><tspan dy="-5" font-size="10">-1</tspan><tspan dy="5">]</tspan></text>
</svg></body></html>
